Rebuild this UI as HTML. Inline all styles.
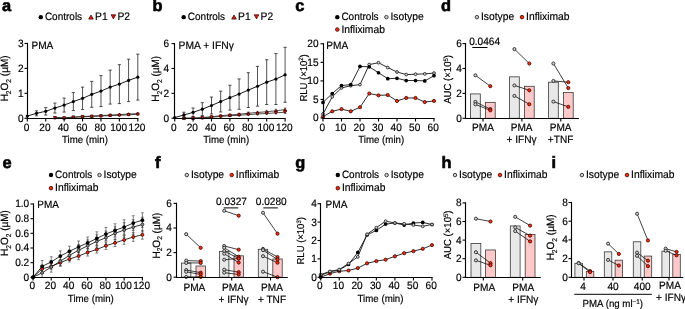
<!DOCTYPE html>
<html><head><meta charset="utf-8"><style>
html,body{margin:0;padding:0;background:#fff;}
svg{display:block;font-family:"Liberation Sans", sans-serif;will-change:transform;}
text{stroke:#000;stroke-width:0.18px;}
</style></head><body>
<svg width="685" height="309" viewBox="0 0 685 309" font-size="9.7" text-rendering="geometricPrecision">
<rect width="685" height="309" fill="#fff"/>
<text x="2.1" y="11.4" font-weight="bold" font-size="16.4" style="stroke-width:0.6px">a</text>
<circle cx="40.8" cy="17.15" r="2.2" fill="#000"/>
<text transform="translate(44.9 20.4) scale(0.9434 1)" font-size="10.6">Controls</text>
<polygon points="91,14.98 93.3,19.12 88.7,19.12" fill="#e8160c" stroke="#2a0000" stroke-width="0.7" stroke-linejoin="round"/>
<text transform="translate(95.1 20.4) scale(0.9434 1)" font-size="10.92">P1</text>
<polygon points="113.4,18.92 115.7,14.78 111.1,14.78" fill="#e8160c" stroke="#2a0000" stroke-width="0.7" stroke-linejoin="round"/>
<text transform="translate(117.5 20.4) scale(0.9434 1)" font-size="10.92">P2</text>
<line x1="54.93" y1="116.55" x2="54.93" y2="118.3" stroke="#777" stroke-width="0.6"/>
<line x1="64.13" y1="116.8" x2="64.13" y2="118.3" stroke="#777" stroke-width="0.6"/>
<line x1="73.34" y1="116.05" x2="73.34" y2="118.05" stroke="#777" stroke-width="0.6"/>
<line x1="82.55" y1="115.56" x2="82.55" y2="117.55" stroke="#777" stroke-width="0.6"/>
<line x1="91.76" y1="115.06" x2="91.76" y2="117.05" stroke="#777" stroke-width="0.6"/>
<line x1="100.97" y1="114.56" x2="100.97" y2="116.55" stroke="#777" stroke-width="0.6"/>
<line x1="110.18" y1="114.06" x2="110.18" y2="116.05" stroke="#777" stroke-width="0.6"/>
<line x1="119.38" y1="113.56" x2="119.38" y2="115.56" stroke="#777" stroke-width="0.6"/>
<line x1="128.59" y1="113.06" x2="128.59" y2="115.06" stroke="#777" stroke-width="0.6"/>
<line x1="137.8" y1="112.56" x2="137.8" y2="114.56" stroke="#777" stroke-width="0.6"/>
<line x1="54.93" y1="117.05" x2="54.93" y2="118.3" stroke="#777" stroke-width="0.6"/>
<line x1="64.13" y1="117.3" x2="64.13" y2="118.3" stroke="#777" stroke-width="0.6"/>
<line x1="73.34" y1="116.55" x2="73.34" y2="118.05" stroke="#777" stroke-width="0.6"/>
<line x1="82.55" y1="116.05" x2="82.55" y2="117.55" stroke="#777" stroke-width="0.6"/>
<line x1="91.76" y1="115.81" x2="91.76" y2="117.3" stroke="#777" stroke-width="0.6"/>
<line x1="100.97" y1="115.31" x2="100.97" y2="116.8" stroke="#777" stroke-width="0.6"/>
<line x1="110.18" y1="114.81" x2="110.18" y2="116.3" stroke="#777" stroke-width="0.6"/>
<line x1="119.38" y1="114.56" x2="119.38" y2="116.05" stroke="#777" stroke-width="0.6"/>
<line x1="128.59" y1="114.06" x2="128.59" y2="115.56" stroke="#777" stroke-width="0.6"/>
<line x1="137.8" y1="113.56" x2="137.8" y2="115.06" stroke="#777" stroke-width="0.6"/>
<polyline points="54.93,117.55 64.13,117.8 73.34,117.05 82.55,116.55 91.76,116.05 100.97,115.56 110.18,115.06 119.38,114.56 128.59,114.06 137.8,113.56" fill="none" stroke="#222" stroke-width="0.8"/>
<polyline points="54.93,117.8 64.13,118.05 73.34,117.3 82.55,116.8 91.76,116.55 100.97,116.05 110.18,115.56 119.38,115.31 128.59,114.81 137.8,114.31" fill="none" stroke="#222" stroke-width="0.8"/>
<polygon points="54.93,116.2 56.43,118.9 53.43,118.9" fill="#fa2a0a" stroke="#300" stroke-width="0.7" stroke-linejoin="round"/>
<polygon points="64.13,116.45 65.63,119.15 62.63,119.15" fill="#fa2a0a" stroke="#300" stroke-width="0.7" stroke-linejoin="round"/>
<polygon points="73.34,115.7 74.84,118.4 71.84,118.4" fill="#fa2a0a" stroke="#300" stroke-width="0.7" stroke-linejoin="round"/>
<polygon points="82.55,115.2 84.05,117.9 81.05,117.9" fill="#fa2a0a" stroke="#300" stroke-width="0.7" stroke-linejoin="round"/>
<polygon points="91.76,114.7 93.26,117.4 90.26,117.4" fill="#fa2a0a" stroke="#300" stroke-width="0.7" stroke-linejoin="round"/>
<polygon points="100.97,114.21 102.47,116.91 99.47,116.91" fill="#fa2a0a" stroke="#300" stroke-width="0.7" stroke-linejoin="round"/>
<polygon points="110.18,113.71 111.68,116.41 108.68,116.41" fill="#fa2a0a" stroke="#300" stroke-width="0.7" stroke-linejoin="round"/>
<polygon points="119.38,113.21 120.88,115.91 117.88,115.91" fill="#fa2a0a" stroke="#300" stroke-width="0.7" stroke-linejoin="round"/>
<polygon points="128.59,112.71 130.09,115.41 127.09,115.41" fill="#fa2a0a" stroke="#300" stroke-width="0.7" stroke-linejoin="round"/>
<polygon points="137.8,112.21 139.3,114.91 136.3,114.91" fill="#fa2a0a" stroke="#300" stroke-width="0.7" stroke-linejoin="round"/>
<polygon points="54.93,119.15 56.43,116.45 53.43,116.45" fill="#fa2a0a" stroke="#300" stroke-width="0.7" stroke-linejoin="round"/>
<polygon points="64.13,119.4 65.63,116.7 62.63,116.7" fill="#fa2a0a" stroke="#300" stroke-width="0.7" stroke-linejoin="round"/>
<polygon points="73.34,118.65 74.84,115.95 71.84,115.95" fill="#fa2a0a" stroke="#300" stroke-width="0.7" stroke-linejoin="round"/>
<polygon points="82.55,118.15 84.05,115.45 81.05,115.45" fill="#fa2a0a" stroke="#300" stroke-width="0.7" stroke-linejoin="round"/>
<polygon points="91.76,117.9 93.26,115.2 90.26,115.2" fill="#fa2a0a" stroke="#300" stroke-width="0.7" stroke-linejoin="round"/>
<polygon points="100.97,117.4 102.47,114.7 99.47,114.7" fill="#fa2a0a" stroke="#300" stroke-width="0.7" stroke-linejoin="round"/>
<polygon points="110.18,116.91 111.68,114.21 108.68,114.21" fill="#fa2a0a" stroke="#300" stroke-width="0.7" stroke-linejoin="round"/>
<polygon points="119.38,116.66 120.88,113.96 117.88,113.96" fill="#fa2a0a" stroke="#300" stroke-width="0.7" stroke-linejoin="round"/>
<polygon points="128.59,116.16 130.09,113.46 127.09,113.46" fill="#fa2a0a" stroke="#300" stroke-width="0.7" stroke-linejoin="round"/>
<polygon points="137.8,115.66 139.3,112.96 136.3,112.96" fill="#fa2a0a" stroke="#300" stroke-width="0.7" stroke-linejoin="round"/>
<line x1="36.51" y1="110.81" x2="36.51" y2="115.8" stroke="#1a1a1a" stroke-width="0.75"/>
<line x1="34.91" y1="110.81" x2="38.11" y2="110.81" stroke="#1a1a1a" stroke-width="0.75"/>
<line x1="34.91" y1="115.8" x2="38.11" y2="115.8" stroke="#1a1a1a" stroke-width="0.75"/>
<line x1="45.72" y1="107.57" x2="45.72" y2="115.06" stroke="#1a1a1a" stroke-width="0.75"/>
<line x1="44.12" y1="107.57" x2="47.32" y2="107.57" stroke="#1a1a1a" stroke-width="0.75"/>
<line x1="44.12" y1="115.06" x2="47.32" y2="115.06" stroke="#1a1a1a" stroke-width="0.75"/>
<line x1="54.93" y1="103.08" x2="54.93" y2="113.06" stroke="#1a1a1a" stroke-width="0.75"/>
<line x1="53.33" y1="103.08" x2="56.53" y2="103.08" stroke="#1a1a1a" stroke-width="0.75"/>
<line x1="53.33" y1="113.06" x2="56.53" y2="113.06" stroke="#1a1a1a" stroke-width="0.75"/>
<line x1="64.13" y1="98.09" x2="64.13" y2="112.06" stroke="#1a1a1a" stroke-width="0.75"/>
<line x1="62.53" y1="98.09" x2="65.73" y2="98.09" stroke="#1a1a1a" stroke-width="0.75"/>
<line x1="62.53" y1="112.06" x2="65.73" y2="112.06" stroke="#1a1a1a" stroke-width="0.75"/>
<line x1="73.34" y1="92.6" x2="73.34" y2="110.57" stroke="#1a1a1a" stroke-width="0.75"/>
<line x1="71.74" y1="92.6" x2="74.94" y2="92.6" stroke="#1a1a1a" stroke-width="0.75"/>
<line x1="71.74" y1="110.57" x2="74.94" y2="110.57" stroke="#1a1a1a" stroke-width="0.75"/>
<line x1="82.55" y1="87.11" x2="82.55" y2="109.57" stroke="#1a1a1a" stroke-width="0.75"/>
<line x1="80.95" y1="87.11" x2="84.15" y2="87.11" stroke="#1a1a1a" stroke-width="0.75"/>
<line x1="80.95" y1="109.57" x2="84.15" y2="109.57" stroke="#1a1a1a" stroke-width="0.75"/>
<line x1="91.76" y1="81.37" x2="91.76" y2="107.32" stroke="#1a1a1a" stroke-width="0.75"/>
<line x1="90.16" y1="81.37" x2="93.36" y2="81.37" stroke="#1a1a1a" stroke-width="0.75"/>
<line x1="90.16" y1="107.32" x2="93.36" y2="107.32" stroke="#1a1a1a" stroke-width="0.75"/>
<line x1="100.97" y1="75.64" x2="100.97" y2="106.57" stroke="#1a1a1a" stroke-width="0.75"/>
<line x1="99.37" y1="75.64" x2="102.57" y2="75.64" stroke="#1a1a1a" stroke-width="0.75"/>
<line x1="99.37" y1="106.57" x2="102.57" y2="106.57" stroke="#1a1a1a" stroke-width="0.75"/>
<line x1="110.18" y1="70.15" x2="110.18" y2="104.08" stroke="#1a1a1a" stroke-width="0.75"/>
<line x1="108.58" y1="70.15" x2="111.78" y2="70.15" stroke="#1a1a1a" stroke-width="0.75"/>
<line x1="108.58" y1="104.08" x2="111.78" y2="104.08" stroke="#1a1a1a" stroke-width="0.75"/>
<line x1="119.38" y1="64.66" x2="119.38" y2="103.58" stroke="#1a1a1a" stroke-width="0.75"/>
<line x1="117.78" y1="64.66" x2="120.98" y2="64.66" stroke="#1a1a1a" stroke-width="0.75"/>
<line x1="117.78" y1="103.58" x2="120.98" y2="103.58" stroke="#1a1a1a" stroke-width="0.75"/>
<line x1="128.59" y1="59.17" x2="128.59" y2="101.58" stroke="#1a1a1a" stroke-width="0.75"/>
<line x1="126.99" y1="59.17" x2="130.19" y2="59.17" stroke="#1a1a1a" stroke-width="0.75"/>
<line x1="126.99" y1="101.58" x2="130.19" y2="101.58" stroke="#1a1a1a" stroke-width="0.75"/>
<line x1="137.8" y1="54.18" x2="137.8" y2="100.09" stroke="#1a1a1a" stroke-width="0.75"/>
<line x1="136.2" y1="54.18" x2="139.4" y2="54.18" stroke="#1a1a1a" stroke-width="0.75"/>
<line x1="136.2" y1="100.09" x2="139.4" y2="100.09" stroke="#1a1a1a" stroke-width="0.75"/>
<polyline points="27.3,116.05 36.51,113.31 45.72,111.31 54.93,108.07 64.13,105.08 73.34,101.58 82.55,98.34 91.76,94.35 100.97,91.1 110.18,87.11 119.38,84.12 128.59,80.38 137.8,77.13" fill="none" stroke="#000" stroke-width="0.9"/>
<circle cx="27.3" cy="116.05" r="1.6" fill="#000"/>
<circle cx="36.51" cy="113.31" r="1.6" fill="#000"/>
<circle cx="45.72" cy="111.31" r="1.6" fill="#000"/>
<circle cx="54.93" cy="108.07" r="1.6" fill="#000"/>
<circle cx="64.13" cy="105.08" r="1.6" fill="#000"/>
<circle cx="73.34" cy="101.58" r="1.6" fill="#000"/>
<circle cx="82.55" cy="98.34" r="1.6" fill="#000"/>
<circle cx="91.76" cy="94.35" r="1.6" fill="#000"/>
<circle cx="100.97" cy="91.1" r="1.6" fill="#000"/>
<circle cx="110.18" cy="87.11" r="1.6" fill="#000"/>
<circle cx="119.38" cy="84.12" r="1.6" fill="#000"/>
<circle cx="128.59" cy="80.38" r="1.6" fill="#000"/>
<circle cx="137.8" cy="77.13" r="1.6" fill="#000"/>
<line x1="27.5" y1="42.85" x2="27.5" y2="119.05" stroke="#000" stroke-width="1.15"/>
<line x1="24.5" y1="118.3" x2="27.5" y2="118.3" stroke="#000" stroke-width="1.1"/>
<text transform="translate(23.6 121.7) scale(0.9434 1)" text-anchor="end" font-size="10.71">0</text>
<line x1="24.5" y1="93.35" x2="27.5" y2="93.35" stroke="#000" stroke-width="1.1"/>
<text transform="translate(23.6 96.75) scale(0.9434 1)" text-anchor="end" font-size="10.71">1</text>
<line x1="24.5" y1="68.4" x2="27.5" y2="68.4" stroke="#000" stroke-width="1.1"/>
<text transform="translate(23.6 71.8) scale(0.9434 1)" text-anchor="end" font-size="10.71">2</text>
<line x1="24.5" y1="43.45" x2="27.5" y2="43.45" stroke="#000" stroke-width="1.1"/>
<text transform="translate(23.6 46.85) scale(0.9434 1)" text-anchor="end" font-size="10.71">3</text>
<line x1="26.95" y1="118.5" x2="138.4" y2="118.5" stroke="#000" stroke-width="1.15"/>
<line x1="27.3" y1="118.5" x2="27.3" y2="121.5" stroke="#000" stroke-width="1.1"/>
<text transform="translate(26.5 130.6) scale(0.9434 1)" text-anchor="middle" font-size="10.71">0</text>
<line x1="45.72" y1="118.5" x2="45.72" y2="121.5" stroke="#000" stroke-width="1.1"/>
<text transform="translate(44.92 130.6) scale(0.9434 1)" text-anchor="middle" font-size="10.71">20</text>
<line x1="64.13" y1="118.5" x2="64.13" y2="121.5" stroke="#000" stroke-width="1.1"/>
<text transform="translate(63.33 130.6) scale(0.9434 1)" text-anchor="middle" font-size="10.71">40</text>
<line x1="82.55" y1="118.5" x2="82.55" y2="121.5" stroke="#000" stroke-width="1.1"/>
<text transform="translate(81.75 130.6) scale(0.9434 1)" text-anchor="middle" font-size="10.71">60</text>
<line x1="100.97" y1="118.5" x2="100.97" y2="121.5" stroke="#000" stroke-width="1.1"/>
<text transform="translate(100.17 130.6) scale(0.9434 1)" text-anchor="middle" font-size="10.71">80</text>
<line x1="119.38" y1="118.5" x2="119.38" y2="121.5" stroke="#000" stroke-width="1.1"/>
<text transform="translate(118.58 130.6) scale(0.9434 1)" text-anchor="middle" font-size="10.71">100</text>
<line x1="137.8" y1="118.5" x2="137.8" y2="121.5" stroke="#000" stroke-width="1.1"/>
<text transform="translate(137 130.6) scale(0.9434 1)" text-anchor="middle" font-size="10.71">120</text>
<text transform="translate(84.9 142.9) scale(0.9434 1)" text-anchor="middle" font-size="10.28">Time (min)</text>
<text transform="translate(31.4 48.9) scale(0.9434 1)" font-size="10.71">PMA</text>
<text transform="translate(8.1,78.4) rotate(-90) scale(0.9434 1)" text-anchor="middle" font-size="10.6">H<tspan font-size="7" dy="2.6">2</tspan><tspan dy="-2.6">O</tspan><tspan font-size="7" dy="2.6">2</tspan><tspan dy="-2.6"> (µM)</tspan></text>
<text x="152.6" y="11.4" font-weight="bold" font-size="16.4" style="stroke-width:0.6px">b</text>
<circle cx="183.7" cy="17.15" r="2.2" fill="#000"/>
<text transform="translate(187.8 20.4) scale(0.9434 1)" font-size="10.6">Controls</text>
<polygon points="234,14.98 236.3,19.12 231.7,19.12" fill="#e8160c" stroke="#2a0000" stroke-width="0.7" stroke-linejoin="round"/>
<text transform="translate(238.1 20.4) scale(0.9434 1)" font-size="10.92">P1</text>
<polygon points="256.5,18.92 258.8,14.78 254.2,14.78" fill="#e8160c" stroke="#2a0000" stroke-width="0.7" stroke-linejoin="round"/>
<text transform="translate(260.6 20.4) scale(0.9434 1)" font-size="10.92">P2</text>
<line x1="202.3" y1="117.14" x2="202.3" y2="118.01" stroke="#666" stroke-width="0.6"/>
<line x1="200.9" y1="117.14" x2="203.7" y2="117.14" stroke="#666" stroke-width="0.6"/>
<line x1="200.9" y1="118.01" x2="203.7" y2="118.01" stroke="#666" stroke-width="0.6"/>
<line x1="211.5" y1="116.13" x2="211.5" y2="117.29" stroke="#666" stroke-width="0.6"/>
<line x1="210.1" y1="116.13" x2="212.9" y2="116.13" stroke="#666" stroke-width="0.6"/>
<line x1="210.1" y1="117.29" x2="212.9" y2="117.29" stroke="#666" stroke-width="0.6"/>
<line x1="220.7" y1="114.99" x2="220.7" y2="116.44" stroke="#666" stroke-width="0.6"/>
<line x1="219.3" y1="114.99" x2="222.1" y2="114.99" stroke="#666" stroke-width="0.6"/>
<line x1="219.3" y1="116.44" x2="222.1" y2="116.44" stroke="#666" stroke-width="0.6"/>
<line x1="229.9" y1="114.1" x2="229.9" y2="115.84" stroke="#666" stroke-width="0.6"/>
<line x1="228.5" y1="114.1" x2="231.3" y2="114.1" stroke="#666" stroke-width="0.6"/>
<line x1="228.5" y1="115.84" x2="231.3" y2="115.84" stroke="#666" stroke-width="0.6"/>
<line x1="239.1" y1="113.21" x2="239.1" y2="115.24" stroke="#666" stroke-width="0.6"/>
<line x1="237.7" y1="113.21" x2="240.5" y2="113.21" stroke="#666" stroke-width="0.6"/>
<line x1="237.7" y1="115.24" x2="240.5" y2="115.24" stroke="#666" stroke-width="0.6"/>
<line x1="248.3" y1="112.07" x2="248.3" y2="114.39" stroke="#666" stroke-width="0.6"/>
<line x1="246.9" y1="112.07" x2="249.7" y2="112.07" stroke="#666" stroke-width="0.6"/>
<line x1="246.9" y1="114.39" x2="249.7" y2="114.39" stroke="#666" stroke-width="0.6"/>
<line x1="257.5" y1="111.18" x2="257.5" y2="113.79" stroke="#666" stroke-width="0.6"/>
<line x1="256.1" y1="111.18" x2="258.9" y2="111.18" stroke="#666" stroke-width="0.6"/>
<line x1="256.1" y1="113.79" x2="258.9" y2="113.79" stroke="#666" stroke-width="0.6"/>
<line x1="266.7" y1="110.29" x2="266.7" y2="113.19" stroke="#666" stroke-width="0.6"/>
<line x1="265.3" y1="110.29" x2="268.1" y2="110.29" stroke="#666" stroke-width="0.6"/>
<line x1="265.3" y1="113.19" x2="268.1" y2="113.19" stroke="#666" stroke-width="0.6"/>
<line x1="275.9" y1="109.15" x2="275.9" y2="112.34" stroke="#666" stroke-width="0.6"/>
<line x1="274.5" y1="109.15" x2="277.3" y2="109.15" stroke="#666" stroke-width="0.6"/>
<line x1="274.5" y1="112.34" x2="277.3" y2="112.34" stroke="#666" stroke-width="0.6"/>
<line x1="285.1" y1="107.88" x2="285.1" y2="111.36" stroke="#666" stroke-width="0.6"/>
<line x1="283.7" y1="107.88" x2="286.5" y2="107.88" stroke="#666" stroke-width="0.6"/>
<line x1="283.7" y1="111.36" x2="286.5" y2="111.36" stroke="#666" stroke-width="0.6"/>
<line x1="202.3" y1="117.64" x2="202.3" y2="118.2" stroke="#666" stroke-width="0.6"/>
<line x1="200.9" y1="117.64" x2="203.7" y2="117.64" stroke="#666" stroke-width="0.6"/>
<line x1="200.9" y1="118.2" x2="203.7" y2="118.2" stroke="#666" stroke-width="0.6"/>
<line x1="211.5" y1="116.79" x2="211.5" y2="117.62" stroke="#666" stroke-width="0.6"/>
<line x1="210.1" y1="116.79" x2="212.9" y2="116.79" stroke="#666" stroke-width="0.6"/>
<line x1="210.1" y1="117.62" x2="212.9" y2="117.62" stroke="#666" stroke-width="0.6"/>
<line x1="220.7" y1="115.94" x2="220.7" y2="116.98" stroke="#666" stroke-width="0.6"/>
<line x1="219.3" y1="115.94" x2="222.1" y2="115.94" stroke="#666" stroke-width="0.6"/>
<line x1="219.3" y1="116.98" x2="222.1" y2="116.98" stroke="#666" stroke-width="0.6"/>
<line x1="229.9" y1="115.09" x2="229.9" y2="116.34" stroke="#666" stroke-width="0.6"/>
<line x1="228.5" y1="115.09" x2="231.3" y2="115.09" stroke="#666" stroke-width="0.6"/>
<line x1="228.5" y1="116.34" x2="231.3" y2="116.34" stroke="#666" stroke-width="0.6"/>
<line x1="239.1" y1="114.49" x2="239.1" y2="115.94" stroke="#666" stroke-width="0.6"/>
<line x1="237.7" y1="114.49" x2="240.5" y2="114.49" stroke="#666" stroke-width="0.6"/>
<line x1="237.7" y1="115.94" x2="240.5" y2="115.94" stroke="#666" stroke-width="0.6"/>
<line x1="248.3" y1="113.77" x2="248.3" y2="115.42" stroke="#666" stroke-width="0.6"/>
<line x1="246.9" y1="113.77" x2="249.7" y2="113.77" stroke="#666" stroke-width="0.6"/>
<line x1="246.9" y1="115.42" x2="249.7" y2="115.42" stroke="#666" stroke-width="0.6"/>
<line x1="257.5" y1="113.04" x2="257.5" y2="114.91" stroke="#666" stroke-width="0.6"/>
<line x1="256.1" y1="113.04" x2="258.9" y2="113.04" stroke="#666" stroke-width="0.6"/>
<line x1="256.1" y1="114.91" x2="258.9" y2="114.91" stroke="#666" stroke-width="0.6"/>
<line x1="266.7" y1="112.44" x2="266.7" y2="114.51" stroke="#666" stroke-width="0.6"/>
<line x1="265.3" y1="112.44" x2="268.1" y2="112.44" stroke="#666" stroke-width="0.6"/>
<line x1="265.3" y1="114.51" x2="268.1" y2="114.51" stroke="#666" stroke-width="0.6"/>
<line x1="275.9" y1="111.72" x2="275.9" y2="113.99" stroke="#666" stroke-width="0.6"/>
<line x1="274.5" y1="111.72" x2="277.3" y2="111.72" stroke="#666" stroke-width="0.6"/>
<line x1="274.5" y1="113.99" x2="277.3" y2="113.99" stroke="#666" stroke-width="0.6"/>
<line x1="285.1" y1="110.99" x2="285.1" y2="113.48" stroke="#666" stroke-width="0.6"/>
<line x1="283.7" y1="110.99" x2="286.5" y2="110.99" stroke="#666" stroke-width="0.6"/>
<line x1="283.7" y1="113.48" x2="286.5" y2="113.48" stroke="#666" stroke-width="0.6"/>
<polyline points="183.9,118.2 193.1,118.08 202.3,117.58 211.5,116.71 220.7,115.71 229.9,114.97 239.1,114.22 248.3,113.23 257.5,112.48 266.7,111.74 275.9,110.74 285.1,109.62" fill="none" stroke="#222" stroke-width="0.8"/>
<polyline points="183.9,118.2 193.1,118.2 202.3,117.95 211.5,117.21 220.7,116.46 229.9,115.71 239.1,115.22 248.3,114.6 257.5,113.97 266.7,113.48 275.9,112.86 285.1,112.23" fill="none" stroke="#222" stroke-width="0.8"/>
<polygon points="183.9,116.85 185.4,119.55 182.4,119.55" fill="#fa2a0a" stroke="#300" stroke-width="0.7" stroke-linejoin="round"/>
<polygon points="193.1,116.73 194.6,119.43 191.6,119.43" fill="#fa2a0a" stroke="#300" stroke-width="0.7" stroke-linejoin="round"/>
<polygon points="202.3,116.23 203.8,118.93 200.8,118.93" fill="#fa2a0a" stroke="#300" stroke-width="0.7" stroke-linejoin="round"/>
<polygon points="211.5,115.36 213,118.06 210,118.06" fill="#fa2a0a" stroke="#300" stroke-width="0.7" stroke-linejoin="round"/>
<polygon points="220.7,114.36 222.2,117.06 219.2,117.06" fill="#fa2a0a" stroke="#300" stroke-width="0.7" stroke-linejoin="round"/>
<polygon points="229.9,113.62 231.4,116.32 228.4,116.32" fill="#fa2a0a" stroke="#300" stroke-width="0.7" stroke-linejoin="round"/>
<polygon points="239.1,112.87 240.6,115.57 237.6,115.57" fill="#fa2a0a" stroke="#300" stroke-width="0.7" stroke-linejoin="round"/>
<polygon points="248.3,111.88 249.8,114.58 246.8,114.58" fill="#fa2a0a" stroke="#300" stroke-width="0.7" stroke-linejoin="round"/>
<polygon points="257.5,111.13 259,113.83 256,113.83" fill="#fa2a0a" stroke="#300" stroke-width="0.7" stroke-linejoin="round"/>
<polygon points="266.7,110.39 268.2,113.09 265.2,113.09" fill="#fa2a0a" stroke="#300" stroke-width="0.7" stroke-linejoin="round"/>
<polygon points="275.9,109.39 277.4,112.09 274.4,112.09" fill="#fa2a0a" stroke="#300" stroke-width="0.7" stroke-linejoin="round"/>
<polygon points="285.1,108.27 286.6,110.97 283.6,110.97" fill="#fa2a0a" stroke="#300" stroke-width="0.7" stroke-linejoin="round"/>
<polygon points="183.9,119.55 185.4,116.85 182.4,116.85" fill="#fa2a0a" stroke="#300" stroke-width="0.7" stroke-linejoin="round"/>
<polygon points="193.1,119.55 194.6,116.85 191.6,116.85" fill="#fa2a0a" stroke="#300" stroke-width="0.7" stroke-linejoin="round"/>
<polygon points="202.3,119.3 203.8,116.6 200.8,116.6" fill="#fa2a0a" stroke="#300" stroke-width="0.7" stroke-linejoin="round"/>
<polygon points="211.5,118.56 213,115.86 210,115.86" fill="#fa2a0a" stroke="#300" stroke-width="0.7" stroke-linejoin="round"/>
<polygon points="220.7,117.81 222.2,115.11 219.2,115.11" fill="#fa2a0a" stroke="#300" stroke-width="0.7" stroke-linejoin="round"/>
<polygon points="229.9,117.06 231.4,114.36 228.4,114.36" fill="#fa2a0a" stroke="#300" stroke-width="0.7" stroke-linejoin="round"/>
<polygon points="239.1,116.57 240.6,113.87 237.6,113.87" fill="#fa2a0a" stroke="#300" stroke-width="0.7" stroke-linejoin="round"/>
<polygon points="248.3,115.95 249.8,113.25 246.8,113.25" fill="#fa2a0a" stroke="#300" stroke-width="0.7" stroke-linejoin="round"/>
<polygon points="257.5,115.32 259,112.62 256,112.62" fill="#fa2a0a" stroke="#300" stroke-width="0.7" stroke-linejoin="round"/>
<polygon points="266.7,114.83 268.2,112.13 265.2,112.13" fill="#fa2a0a" stroke="#300" stroke-width="0.7" stroke-linejoin="round"/>
<polygon points="275.9,114.21 277.4,111.51 274.4,111.51" fill="#fa2a0a" stroke="#300" stroke-width="0.7" stroke-linejoin="round"/>
<polygon points="285.1,113.58 286.6,110.88 283.6,110.88" fill="#fa2a0a" stroke="#300" stroke-width="0.7" stroke-linejoin="round"/>
<line x1="183.9" y1="112.23" x2="183.9" y2="117.7" stroke="#1a1a1a" stroke-width="0.75"/>
<line x1="182.3" y1="112.23" x2="185.5" y2="112.23" stroke="#1a1a1a" stroke-width="0.75"/>
<line x1="182.3" y1="117.7" x2="185.5" y2="117.7" stroke="#1a1a1a" stroke-width="0.75"/>
<line x1="193.1" y1="108.01" x2="193.1" y2="116.71" stroke="#1a1a1a" stroke-width="0.75"/>
<line x1="191.5" y1="108.01" x2="194.7" y2="108.01" stroke="#1a1a1a" stroke-width="0.75"/>
<line x1="191.5" y1="116.71" x2="194.7" y2="116.71" stroke="#1a1a1a" stroke-width="0.75"/>
<line x1="202.3" y1="102.66" x2="202.3" y2="115.59" stroke="#1a1a1a" stroke-width="0.75"/>
<line x1="200.7" y1="102.66" x2="203.9" y2="102.66" stroke="#1a1a1a" stroke-width="0.75"/>
<line x1="200.7" y1="115.59" x2="203.9" y2="115.59" stroke="#1a1a1a" stroke-width="0.75"/>
<line x1="211.5" y1="97.07" x2="211.5" y2="113.97" stroke="#1a1a1a" stroke-width="0.75"/>
<line x1="209.9" y1="97.07" x2="213.1" y2="97.07" stroke="#1a1a1a" stroke-width="0.75"/>
<line x1="209.9" y1="113.97" x2="213.1" y2="113.97" stroke="#1a1a1a" stroke-width="0.75"/>
<line x1="220.7" y1="91.1" x2="220.7" y2="111.98" stroke="#1a1a1a" stroke-width="0.75"/>
<line x1="219.1" y1="91.1" x2="222.3" y2="91.1" stroke="#1a1a1a" stroke-width="0.75"/>
<line x1="219.1" y1="111.98" x2="222.3" y2="111.98" stroke="#1a1a1a" stroke-width="0.75"/>
<line x1="229.9" y1="85.26" x2="229.9" y2="110.12" stroke="#1a1a1a" stroke-width="0.75"/>
<line x1="228.3" y1="85.26" x2="231.5" y2="85.26" stroke="#1a1a1a" stroke-width="0.75"/>
<line x1="228.3" y1="110.12" x2="231.5" y2="110.12" stroke="#1a1a1a" stroke-width="0.75"/>
<line x1="239.1" y1="78.92" x2="239.1" y2="109.25" stroke="#1a1a1a" stroke-width="0.75"/>
<line x1="237.5" y1="78.92" x2="240.7" y2="78.92" stroke="#1a1a1a" stroke-width="0.75"/>
<line x1="237.5" y1="109.25" x2="240.7" y2="109.25" stroke="#1a1a1a" stroke-width="0.75"/>
<line x1="248.3" y1="72.71" x2="248.3" y2="107.51" stroke="#1a1a1a" stroke-width="0.75"/>
<line x1="246.7" y1="72.71" x2="249.9" y2="72.71" stroke="#1a1a1a" stroke-width="0.75"/>
<line x1="246.7" y1="107.51" x2="249.9" y2="107.51" stroke="#1a1a1a" stroke-width="0.75"/>
<line x1="257.5" y1="66.37" x2="257.5" y2="106.14" stroke="#1a1a1a" stroke-width="0.75"/>
<line x1="255.9" y1="66.37" x2="259.1" y2="66.37" stroke="#1a1a1a" stroke-width="0.75"/>
<line x1="255.9" y1="106.14" x2="259.1" y2="106.14" stroke="#1a1a1a" stroke-width="0.75"/>
<line x1="266.7" y1="59.78" x2="266.7" y2="104.53" stroke="#1a1a1a" stroke-width="0.75"/>
<line x1="265.1" y1="59.78" x2="268.3" y2="59.78" stroke="#1a1a1a" stroke-width="0.75"/>
<line x1="265.1" y1="104.53" x2="268.3" y2="104.53" stroke="#1a1a1a" stroke-width="0.75"/>
<line x1="275.9" y1="53.56" x2="275.9" y2="104.53" stroke="#1a1a1a" stroke-width="0.75"/>
<line x1="274.3" y1="53.56" x2="277.5" y2="53.56" stroke="#1a1a1a" stroke-width="0.75"/>
<line x1="274.3" y1="104.53" x2="277.5" y2="104.53" stroke="#1a1a1a" stroke-width="0.75"/>
<line x1="285.1" y1="47.35" x2="285.1" y2="102.29" stroke="#1a1a1a" stroke-width="0.75"/>
<line x1="283.5" y1="47.35" x2="286.7" y2="47.35" stroke="#1a1a1a" stroke-width="0.75"/>
<line x1="283.5" y1="102.29" x2="286.7" y2="102.29" stroke="#1a1a1a" stroke-width="0.75"/>
<polyline points="174.7,117.58 183.9,114.97 193.1,112.36 202.3,109.13 211.5,105.52 220.7,101.54 229.9,97.69 239.1,94.09 248.3,90.11 257.5,86.25 266.7,82.15 275.9,79.05 285.1,74.82" fill="none" stroke="#000" stroke-width="0.9"/>
<circle cx="174.7" cy="117.58" r="1.6" fill="#000"/>
<circle cx="183.9" cy="114.97" r="1.6" fill="#000"/>
<circle cx="193.1" cy="112.36" r="1.6" fill="#000"/>
<circle cx="202.3" cy="109.13" r="1.6" fill="#000"/>
<circle cx="211.5" cy="105.52" r="1.6" fill="#000"/>
<circle cx="220.7" cy="101.54" r="1.6" fill="#000"/>
<circle cx="229.9" cy="97.69" r="1.6" fill="#000"/>
<circle cx="239.1" cy="94.09" r="1.6" fill="#000"/>
<circle cx="248.3" cy="90.11" r="1.6" fill="#000"/>
<circle cx="257.5" cy="86.25" r="1.6" fill="#000"/>
<circle cx="266.7" cy="82.15" r="1.6" fill="#000"/>
<circle cx="275.9" cy="79.05" r="1.6" fill="#000"/>
<circle cx="285.1" cy="74.82" r="1.6" fill="#000"/>
<line x1="174.5" y1="43.02" x2="174.5" y2="119.05" stroke="#000" stroke-width="1.15"/>
<line x1="171.5" y1="118.2" x2="174.5" y2="118.2" stroke="#000" stroke-width="1.1"/>
<text transform="translate(169 121.6) scale(0.9434 1)" text-anchor="end" font-size="10.71">0</text>
<line x1="171.5" y1="93.34" x2="174.5" y2="93.34" stroke="#000" stroke-width="1.1"/>
<text transform="translate(169 96.74) scale(0.9434 1)" text-anchor="end" font-size="10.71">2</text>
<line x1="171.5" y1="68.48" x2="174.5" y2="68.48" stroke="#000" stroke-width="1.1"/>
<text transform="translate(169 71.88) scale(0.9434 1)" text-anchor="end" font-size="10.71">4</text>
<line x1="171.5" y1="43.62" x2="174.5" y2="43.62" stroke="#000" stroke-width="1.1"/>
<text transform="translate(169 47.02) scale(0.9434 1)" text-anchor="end" font-size="10.71">6</text>
<line x1="173.95" y1="118.5" x2="285.7" y2="118.5" stroke="#000" stroke-width="1.15"/>
<line x1="174.7" y1="118.5" x2="174.7" y2="121.5" stroke="#000" stroke-width="1.1"/>
<text transform="translate(173.9 130.6) scale(0.9434 1)" text-anchor="middle" font-size="10.71">0</text>
<line x1="193.1" y1="118.5" x2="193.1" y2="121.5" stroke="#000" stroke-width="1.1"/>
<text transform="translate(192.3 130.6) scale(0.9434 1)" text-anchor="middle" font-size="10.71">20</text>
<line x1="211.5" y1="118.5" x2="211.5" y2="121.5" stroke="#000" stroke-width="1.1"/>
<text transform="translate(210.7 130.6) scale(0.9434 1)" text-anchor="middle" font-size="10.71">40</text>
<line x1="229.9" y1="118.5" x2="229.9" y2="121.5" stroke="#000" stroke-width="1.1"/>
<text transform="translate(229.1 130.6) scale(0.9434 1)" text-anchor="middle" font-size="10.71">60</text>
<line x1="248.3" y1="118.5" x2="248.3" y2="121.5" stroke="#000" stroke-width="1.1"/>
<text transform="translate(247.5 130.6) scale(0.9434 1)" text-anchor="middle" font-size="10.71">80</text>
<line x1="266.7" y1="118.5" x2="266.7" y2="121.5" stroke="#000" stroke-width="1.1"/>
<text transform="translate(265.9 130.6) scale(0.9434 1)" text-anchor="middle" font-size="10.71">100</text>
<line x1="285.1" y1="118.5" x2="285.1" y2="121.5" stroke="#000" stroke-width="1.1"/>
<text transform="translate(284.3 130.6) scale(0.9434 1)" text-anchor="middle" font-size="10.71">120</text>
<text transform="translate(226.2 142.9) scale(0.9434 1)" text-anchor="middle" font-size="10.28">Time (min)</text>
<text transform="translate(178.6 48.9) scale(0.9434 1)" font-size="10.92">PMA + IFNγ</text>
<text transform="translate(159,78.8) rotate(-90) scale(0.9434 1)" text-anchor="middle" font-size="10.6">H<tspan font-size="7" dy="2.6">2</tspan><tspan dy="-2.6">O</tspan><tspan font-size="7" dy="2.6">2</tspan><tspan dy="-2.6"> (µM)</tspan></text>
<text x="295.3" y="11.4" font-weight="bold" font-size="16.4" style="stroke-width:0.6px">c</text>
<circle cx="337.3" cy="17.15" r="2.2" fill="#000"/>
<text transform="translate(341.4 20.4) scale(0.9434 1)" font-size="10.6">Controls</text>
<circle cx="386.4" cy="17.15" r="1.75" fill="#d0d0d0" stroke="#2a2a2a" stroke-width="0.9"/>
<text transform="translate(390.5 20.4) scale(0.9434 1)" font-size="10.92">Isotype</text>
<circle cx="337.3" cy="29.55" r="1.8" fill="#fa2a0a" stroke="#3a0500" stroke-width="0.8"/>
<text transform="translate(341.4 32.8) scale(0.9434 1)" font-size="10.92">Infliximab</text>
<polyline points="323,116.7 332.25,111.32 341.5,109.1 350.75,111.32 360,107.24 369.25,93.51 378.5,95.37 387.75,95 397,100.93 406.25,97.97 415.5,97.97 424.75,102.05 434,100.93" fill="none" stroke="#222" stroke-width="0.95"/>
<circle cx="323" cy="116.7" r="1.6" fill="#fa2a0a" stroke="#3a0500" stroke-width="0.8"/>
<circle cx="332.25" cy="111.32" r="1.6" fill="#fa2a0a" stroke="#3a0500" stroke-width="0.8"/>
<circle cx="341.5" cy="109.1" r="1.6" fill="#fa2a0a" stroke="#3a0500" stroke-width="0.8"/>
<circle cx="350.75" cy="111.32" r="1.6" fill="#fa2a0a" stroke="#3a0500" stroke-width="0.8"/>
<circle cx="360" cy="107.24" r="1.6" fill="#fa2a0a" stroke="#3a0500" stroke-width="0.8"/>
<circle cx="369.25" cy="93.51" r="1.6" fill="#fa2a0a" stroke="#3a0500" stroke-width="0.8"/>
<circle cx="378.5" cy="95.37" r="1.6" fill="#fa2a0a" stroke="#3a0500" stroke-width="0.8"/>
<circle cx="387.75" cy="95" r="1.6" fill="#fa2a0a" stroke="#3a0500" stroke-width="0.8"/>
<circle cx="397" cy="100.93" r="1.6" fill="#fa2a0a" stroke="#3a0500" stroke-width="0.8"/>
<circle cx="406.25" cy="97.97" r="1.6" fill="#fa2a0a" stroke="#3a0500" stroke-width="0.8"/>
<circle cx="415.5" cy="97.97" r="1.6" fill="#fa2a0a" stroke="#3a0500" stroke-width="0.8"/>
<circle cx="424.75" cy="102.05" r="1.6" fill="#fa2a0a" stroke="#3a0500" stroke-width="0.8"/>
<circle cx="434" cy="100.93" r="1.6" fill="#fa2a0a" stroke="#3a0500" stroke-width="0.8"/>
<polyline points="323,113.92 332.25,96.85 341.5,87.95 350.75,85.72 360,84.61 369.25,64.58 378.5,62.72 387.75,67.54 397,72 406.25,74.59 415.5,74.22 424.75,73.85 434,73.11" fill="none" stroke="#222" stroke-width="0.95"/>
<circle cx="323" cy="113.92" r="1.4" fill="#d0d0d0" stroke="#2a2a2a" stroke-width="0.9"/>
<circle cx="332.25" cy="96.85" r="1.4" fill="#d0d0d0" stroke="#2a2a2a" stroke-width="0.9"/>
<circle cx="341.5" cy="87.95" r="1.4" fill="#d0d0d0" stroke="#2a2a2a" stroke-width="0.9"/>
<circle cx="350.75" cy="85.72" r="1.4" fill="#d0d0d0" stroke="#2a2a2a" stroke-width="0.9"/>
<circle cx="360" cy="84.61" r="1.4" fill="#d0d0d0" stroke="#2a2a2a" stroke-width="0.9"/>
<circle cx="369.25" cy="64.58" r="1.4" fill="#d0d0d0" stroke="#2a2a2a" stroke-width="0.9"/>
<circle cx="378.5" cy="62.72" r="1.4" fill="#d0d0d0" stroke="#2a2a2a" stroke-width="0.9"/>
<circle cx="387.75" cy="67.54" r="1.4" fill="#d0d0d0" stroke="#2a2a2a" stroke-width="0.9"/>
<circle cx="397" cy="72" r="1.4" fill="#d0d0d0" stroke="#2a2a2a" stroke-width="0.9"/>
<circle cx="406.25" cy="74.59" r="1.4" fill="#d0d0d0" stroke="#2a2a2a" stroke-width="0.9"/>
<circle cx="415.5" cy="74.22" r="1.4" fill="#d0d0d0" stroke="#2a2a2a" stroke-width="0.9"/>
<circle cx="424.75" cy="73.85" r="1.4" fill="#d0d0d0" stroke="#2a2a2a" stroke-width="0.9"/>
<circle cx="434" cy="73.11" r="1.4" fill="#d0d0d0" stroke="#2a2a2a" stroke-width="0.9"/>
<polyline points="323,102.42 332.25,93.51 341.5,85.54 350.75,84.61 360,66.43 369.25,66.8 378.5,72.74 387.75,78.67 397,78.3 406.25,80.53 415.5,80.53 424.75,80.9 434,75.71" fill="none" stroke="#222" stroke-width="0.95"/>
<circle cx="323" cy="102.42" r="1.85" fill="#000"/>
<circle cx="332.25" cy="93.51" r="1.85" fill="#000"/>
<circle cx="341.5" cy="85.54" r="1.85" fill="#000"/>
<circle cx="350.75" cy="84.61" r="1.85" fill="#000"/>
<circle cx="360" cy="66.43" r="1.85" fill="#000"/>
<circle cx="369.25" cy="66.8" r="1.85" fill="#000"/>
<circle cx="378.5" cy="72.74" r="1.85" fill="#000"/>
<circle cx="387.75" cy="78.67" r="1.85" fill="#000"/>
<circle cx="397" cy="78.3" r="1.85" fill="#000"/>
<circle cx="406.25" cy="80.53" r="1.85" fill="#000"/>
<circle cx="415.5" cy="80.53" r="1.85" fill="#000"/>
<circle cx="424.75" cy="80.9" r="1.85" fill="#000"/>
<circle cx="434" cy="75.71" r="1.85" fill="#000"/>
<line x1="323.5" y1="43.2" x2="323.5" y2="119.05" stroke="#000" stroke-width="1.15"/>
<line x1="320.5" y1="118" x2="323.5" y2="118" stroke="#000" stroke-width="1.1"/>
<text transform="translate(318.6 121.4) scale(0.9434 1)" text-anchor="end" font-size="10.71">0</text>
<line x1="320.5" y1="99.45" x2="323.5" y2="99.45" stroke="#000" stroke-width="1.1"/>
<text transform="translate(318.6 102.85) scale(0.9434 1)" text-anchor="end" font-size="10.71">5</text>
<line x1="320.5" y1="80.9" x2="323.5" y2="80.9" stroke="#000" stroke-width="1.1"/>
<text transform="translate(318.6 84.3) scale(0.9434 1)" text-anchor="end" font-size="10.71">10</text>
<line x1="320.5" y1="62.35" x2="323.5" y2="62.35" stroke="#000" stroke-width="1.1"/>
<text transform="translate(318.6 65.75) scale(0.9434 1)" text-anchor="end" font-size="10.71">15</text>
<line x1="320.5" y1="43.8" x2="323.5" y2="43.8" stroke="#000" stroke-width="1.1"/>
<text transform="translate(318.6 47.2) scale(0.9434 1)" text-anchor="end" font-size="10.71">20</text>
<line x1="322.95" y1="118.5" x2="434.6" y2="118.5" stroke="#000" stroke-width="1.15"/>
<line x1="323" y1="118.5" x2="323" y2="121.5" stroke="#000" stroke-width="1.1"/>
<text transform="translate(322.2 130.8) scale(0.9434 1)" text-anchor="middle" font-size="10.71">0</text>
<line x1="341.5" y1="118.5" x2="341.5" y2="121.5" stroke="#000" stroke-width="1.1"/>
<text transform="translate(340.7 130.8) scale(0.9434 1)" text-anchor="middle" font-size="10.71">10</text>
<line x1="360" y1="118.5" x2="360" y2="121.5" stroke="#000" stroke-width="1.1"/>
<text transform="translate(359.2 130.8) scale(0.9434 1)" text-anchor="middle" font-size="10.71">20</text>
<line x1="378.5" y1="118.5" x2="378.5" y2="121.5" stroke="#000" stroke-width="1.1"/>
<text transform="translate(377.7 130.8) scale(0.9434 1)" text-anchor="middle" font-size="10.71">30</text>
<line x1="397" y1="118.5" x2="397" y2="121.5" stroke="#000" stroke-width="1.1"/>
<text transform="translate(396.2 130.8) scale(0.9434 1)" text-anchor="middle" font-size="10.71">40</text>
<line x1="415.5" y1="118.5" x2="415.5" y2="121.5" stroke="#000" stroke-width="1.1"/>
<text transform="translate(414.7 130.8) scale(0.9434 1)" text-anchor="middle" font-size="10.71">50</text>
<line x1="434" y1="118.5" x2="434" y2="121.5" stroke="#000" stroke-width="1.1"/>
<text transform="translate(433.2 130.8) scale(0.9434 1)" text-anchor="middle" font-size="10.71">60</text>
<text transform="translate(381.2 143) scale(0.9434 1)" text-anchor="middle" font-size="10.28">Time (min)</text>
<text transform="translate(326.3 48.9) scale(0.9434 1)" font-size="10.71">PMA</text>
<text transform="translate(306.8,77.9) rotate(-90) scale(0.9434 1)" text-anchor="middle" font-size="10.07">RLU (×10<tspan font-size="6.3" dy="-3.4">2</tspan><tspan dy="3.4">)</tspan></text>
<text x="441" y="11.4" font-weight="bold" font-size="16.4" style="stroke-width:0.6px">d</text>
<circle cx="476.9" cy="17.15" r="1.75" fill="#d0d0d0" stroke="#2a2a2a" stroke-width="0.9"/>
<text transform="translate(481 20.4) scale(0.9434 1)" font-size="10.92">Isotype</text>
<circle cx="522" cy="17.15" r="1.8" fill="#fa2a0a" stroke="#3a0500" stroke-width="0.8"/>
<text transform="translate(526.1 20.4) scale(0.9434 1)" font-size="10.92">Infliximab</text>
<rect x="470.5" y="93.9" width="9.8" height="24.4" fill="#e8e8e8" stroke="#3a3a3a" stroke-width="0.8"/>
<rect x="485.4" y="102.36" width="9.8" height="15.94" fill="#ffc9c9" stroke="#3a3a3a" stroke-width="0.8"/>
<rect x="509.5" y="76.84" width="9.8" height="41.46" fill="#e8e8e8" stroke="#3a3a3a" stroke-width="0.8"/>
<rect x="524.4" y="86.3" width="9.8" height="32" fill="#ffc9c9" stroke="#3a3a3a" stroke-width="0.8"/>
<rect x="548.5" y="82.19" width="9.8" height="36.11" fill="#e8e8e8" stroke="#3a3a3a" stroke-width="0.8"/>
<rect x="563.4" y="92.4" width="9.8" height="25.9" fill="#ffc9c9" stroke="#3a3a3a" stroke-width="0.8"/>
<line x1="475.4" y1="75.35" x2="490.3" y2="86.18" stroke="#111" stroke-width="0.8"/>
<line x1="475.4" y1="101.87" x2="490.3" y2="109.09" stroke="#111" stroke-width="0.8"/>
<line x1="475.4" y1="104.36" x2="490.3" y2="110.33" stroke="#111" stroke-width="0.8"/>
<circle cx="475.4" cy="75.35" r="1.55" fill="#d0d0d0" stroke="#2a2a2a" stroke-width="0.9"/>
<circle cx="490.3" cy="86.18" r="1.6" fill="#fa2a0a" stroke="#3a0500" stroke-width="0.8"/>
<circle cx="475.4" cy="101.87" r="1.55" fill="#d0d0d0" stroke="#2a2a2a" stroke-width="0.9"/>
<circle cx="490.3" cy="109.09" r="1.6" fill="#fa2a0a" stroke="#3a0500" stroke-width="0.8"/>
<circle cx="475.4" cy="104.36" r="1.55" fill="#d0d0d0" stroke="#2a2a2a" stroke-width="0.9"/>
<circle cx="490.3" cy="110.33" r="1.6" fill="#fa2a0a" stroke="#3a0500" stroke-width="0.8"/>
<line x1="514.4" y1="49.08" x2="529.3" y2="63.52" stroke="#111" stroke-width="0.8"/>
<line x1="514.4" y1="85.43" x2="529.3" y2="90.29" stroke="#111" stroke-width="0.8"/>
<line x1="514.4" y1="95.89" x2="529.3" y2="104.23" stroke="#111" stroke-width="0.8"/>
<circle cx="514.4" cy="49.08" r="1.55" fill="#d0d0d0" stroke="#2a2a2a" stroke-width="0.9"/>
<circle cx="529.3" cy="63.52" r="1.6" fill="#fa2a0a" stroke="#3a0500" stroke-width="0.8"/>
<circle cx="514.4" cy="85.43" r="1.55" fill="#d0d0d0" stroke="#2a2a2a" stroke-width="0.9"/>
<circle cx="529.3" cy="90.29" r="1.6" fill="#fa2a0a" stroke="#3a0500" stroke-width="0.8"/>
<circle cx="514.4" cy="95.89" r="1.55" fill="#d0d0d0" stroke="#2a2a2a" stroke-width="0.9"/>
<circle cx="529.3" cy="104.23" r="1.6" fill="#fa2a0a" stroke="#3a0500" stroke-width="0.8"/>
<line x1="553.4" y1="63.52" x2="568.3" y2="88.05" stroke="#111" stroke-width="0.8"/>
<line x1="553.4" y1="80.95" x2="568.3" y2="82.19" stroke="#111" stroke-width="0.8"/>
<line x1="553.4" y1="101.62" x2="568.3" y2="106.85" stroke="#111" stroke-width="0.8"/>
<circle cx="553.4" cy="63.52" r="1.55" fill="#d0d0d0" stroke="#2a2a2a" stroke-width="0.9"/>
<circle cx="568.3" cy="88.05" r="1.6" fill="#fa2a0a" stroke="#3a0500" stroke-width="0.8"/>
<circle cx="553.4" cy="80.95" r="1.55" fill="#d0d0d0" stroke="#2a2a2a" stroke-width="0.9"/>
<circle cx="568.3" cy="82.19" r="1.6" fill="#fa2a0a" stroke="#3a0500" stroke-width="0.8"/>
<circle cx="553.4" cy="101.62" r="1.55" fill="#d0d0d0" stroke="#2a2a2a" stroke-width="0.9"/>
<circle cx="568.3" cy="106.85" r="1.6" fill="#fa2a0a" stroke="#3a0500" stroke-width="0.8"/>
<line x1="465.5" y1="43" x2="465.5" y2="119.05" stroke="#000" stroke-width="1.15"/>
<line x1="462.5" y1="118.3" x2="465.5" y2="118.3" stroke="#000" stroke-width="1.1"/>
<text transform="translate(461.8 121.7) scale(0.9434 1)" text-anchor="end" font-size="10.71">0</text>
<line x1="462.5" y1="93.4" x2="465.5" y2="93.4" stroke="#000" stroke-width="1.1"/>
<text transform="translate(461.8 96.8) scale(0.9434 1)" text-anchor="end" font-size="10.71">2</text>
<line x1="462.5" y1="68.5" x2="465.5" y2="68.5" stroke="#000" stroke-width="1.1"/>
<text transform="translate(461.8 71.9) scale(0.9434 1)" text-anchor="end" font-size="10.71">4</text>
<line x1="462.5" y1="43.6" x2="465.5" y2="43.6" stroke="#000" stroke-width="1.1"/>
<text transform="translate(461.8 47) scale(0.9434 1)" text-anchor="end" font-size="10.71">6</text>
<line x1="464.95" y1="118.5" x2="578.9" y2="118.5" stroke="#000" stroke-width="1.15"/>
<line x1="483" y1="118.5" x2="483" y2="121.5" stroke="#000" stroke-width="1.1"/>
<line x1="521.9" y1="118.5" x2="521.9" y2="121.5" stroke="#000" stroke-width="1.1"/>
<line x1="560.8" y1="118.5" x2="560.8" y2="121.5" stroke="#000" stroke-width="1.1"/>
<text transform="translate(483 130.6) scale(0.9434 1)" text-anchor="middle" font-size="10.71">PMA</text>
<text transform="translate(521.6 130.6) scale(0.9434 1)" text-anchor="middle" font-size="10.71">PMA</text>
<text transform="translate(521.6 142.8) scale(0.9434 1)" text-anchor="middle" font-size="10.71">+ IFNγ</text>
<text transform="translate(560.6 130.6) scale(0.9434 1)" text-anchor="middle" font-size="10.71">PMA</text>
<text transform="translate(560.6 142.8) scale(0.9434 1)" text-anchor="middle" font-size="10.71">+TNF</text>
<text transform="translate(469.2 45.1) scale(0.9434 1)" font-size="10.71">0.0464</text>
<line x1="472.3" y1="47.5" x2="487.5" y2="47.5" stroke="#000" stroke-width="1"/>
<text transform="translate(451.4,79.4) rotate(-90) scale(0.9434 1)" text-anchor="middle" font-size="10.18">AUC (×10<tspan font-size="6.3" dy="-3.4">5</tspan><tspan dy="3.4">)</tspan></text>
<text x="2.6" y="168.4" font-weight="bold" font-size="16.4" style="stroke-width:0.6px">e</text>
<circle cx="51" cy="175.05" r="2.2" fill="#000"/>
<text transform="translate(55.1 178.3) scale(0.9434 1)" font-size="10.6">Controls</text>
<circle cx="99.5" cy="175.05" r="1.75" fill="#d0d0d0" stroke="#2a2a2a" stroke-width="0.9"/>
<text transform="translate(103.6 178.3) scale(0.9434 1)" font-size="10.92">Isotype</text>
<circle cx="51" cy="188.15" r="1.8" fill="#fa2a0a" stroke="#3a0500" stroke-width="0.8"/>
<text transform="translate(55.1 191.4) scale(0.9434 1)" font-size="10.92">Infliximab</text>
<line x1="42.12" y1="260.51" x2="42.12" y2="272.24" stroke="#333" stroke-width="0.6"/>
<line x1="40.72" y1="260.51" x2="43.52" y2="260.51" stroke="#333" stroke-width="0.6"/>
<line x1="40.72" y1="272.24" x2="43.52" y2="272.24" stroke="#333" stroke-width="0.6"/>
<line x1="51.23" y1="256.78" x2="51.23" y2="267.04" stroke="#333" stroke-width="0.6"/>
<line x1="49.83" y1="256.78" x2="52.63" y2="256.78" stroke="#333" stroke-width="0.6"/>
<line x1="49.83" y1="267.04" x2="52.63" y2="267.04" stroke="#333" stroke-width="0.6"/>
<line x1="60.35" y1="250.91" x2="60.35" y2="261.17" stroke="#333" stroke-width="0.6"/>
<line x1="58.95" y1="250.91" x2="61.75" y2="250.91" stroke="#333" stroke-width="0.6"/>
<line x1="58.95" y1="261.17" x2="61.75" y2="261.17" stroke="#333" stroke-width="0.6"/>
<line x1="69.47" y1="246.15" x2="69.47" y2="256.41" stroke="#333" stroke-width="0.6"/>
<line x1="68.07" y1="246.15" x2="70.87" y2="246.15" stroke="#333" stroke-width="0.6"/>
<line x1="68.07" y1="256.41" x2="70.87" y2="256.41" stroke="#333" stroke-width="0.6"/>
<line x1="78.58" y1="241.02" x2="78.58" y2="252.74" stroke="#333" stroke-width="0.6"/>
<line x1="77.18" y1="241.02" x2="79.98" y2="241.02" stroke="#333" stroke-width="0.6"/>
<line x1="77.18" y1="252.74" x2="79.98" y2="252.74" stroke="#333" stroke-width="0.6"/>
<line x1="87.7" y1="236.99" x2="87.7" y2="248.71" stroke="#333" stroke-width="0.6"/>
<line x1="86.3" y1="236.99" x2="89.1" y2="236.99" stroke="#333" stroke-width="0.6"/>
<line x1="86.3" y1="248.71" x2="89.1" y2="248.71" stroke="#333" stroke-width="0.6"/>
<line x1="96.82" y1="231.85" x2="96.82" y2="245.05" stroke="#333" stroke-width="0.6"/>
<line x1="95.42" y1="231.85" x2="98.22" y2="231.85" stroke="#333" stroke-width="0.6"/>
<line x1="95.42" y1="245.05" x2="98.22" y2="245.05" stroke="#333" stroke-width="0.6"/>
<line x1="105.93" y1="227.46" x2="105.93" y2="240.65" stroke="#333" stroke-width="0.6"/>
<line x1="104.53" y1="227.46" x2="107.33" y2="227.46" stroke="#333" stroke-width="0.6"/>
<line x1="104.53" y1="240.65" x2="107.33" y2="240.65" stroke="#333" stroke-width="0.6"/>
<line x1="115.05" y1="223.79" x2="115.05" y2="236.99" stroke="#333" stroke-width="0.6"/>
<line x1="113.65" y1="223.79" x2="116.45" y2="223.79" stroke="#333" stroke-width="0.6"/>
<line x1="113.65" y1="236.99" x2="116.45" y2="236.99" stroke="#333" stroke-width="0.6"/>
<line x1="124.17" y1="219.76" x2="124.17" y2="234.42" stroke="#333" stroke-width="0.6"/>
<line x1="122.77" y1="219.76" x2="125.57" y2="219.76" stroke="#333" stroke-width="0.6"/>
<line x1="122.77" y1="234.42" x2="125.57" y2="234.42" stroke="#333" stroke-width="0.6"/>
<line x1="133.28" y1="215.73" x2="133.28" y2="230.39" stroke="#333" stroke-width="0.6"/>
<line x1="131.88" y1="215.73" x2="134.68" y2="215.73" stroke="#333" stroke-width="0.6"/>
<line x1="131.88" y1="230.39" x2="134.68" y2="230.39" stroke="#333" stroke-width="0.6"/>
<line x1="142.4" y1="212.8" x2="142.4" y2="227.46" stroke="#333" stroke-width="0.6"/>
<line x1="141" y1="212.8" x2="143.8" y2="212.8" stroke="#333" stroke-width="0.6"/>
<line x1="141" y1="227.46" x2="143.8" y2="227.46" stroke="#333" stroke-width="0.6"/>
<line x1="42.12" y1="267.04" x2="42.12" y2="277.3" stroke="#333" stroke-width="0.6"/>
<line x1="40.72" y1="267.04" x2="43.52" y2="267.04" stroke="#333" stroke-width="0.6"/>
<line x1="40.72" y1="277.3" x2="43.52" y2="277.3" stroke="#333" stroke-width="0.6"/>
<line x1="51.23" y1="261.91" x2="51.23" y2="272.17" stroke="#333" stroke-width="0.6"/>
<line x1="49.83" y1="261.91" x2="52.63" y2="261.91" stroke="#333" stroke-width="0.6"/>
<line x1="49.83" y1="272.17" x2="52.63" y2="272.17" stroke="#333" stroke-width="0.6"/>
<line x1="60.35" y1="256.04" x2="60.35" y2="266.31" stroke="#333" stroke-width="0.6"/>
<line x1="58.95" y1="256.04" x2="61.75" y2="256.04" stroke="#333" stroke-width="0.6"/>
<line x1="58.95" y1="266.31" x2="61.75" y2="266.31" stroke="#333" stroke-width="0.6"/>
<line x1="69.47" y1="250.18" x2="69.47" y2="260.44" stroke="#333" stroke-width="0.6"/>
<line x1="68.07" y1="250.18" x2="70.87" y2="250.18" stroke="#333" stroke-width="0.6"/>
<line x1="68.07" y1="260.44" x2="70.87" y2="260.44" stroke="#333" stroke-width="0.6"/>
<line x1="78.58" y1="244.31" x2="78.58" y2="256.04" stroke="#333" stroke-width="0.6"/>
<line x1="77.18" y1="244.31" x2="79.98" y2="244.31" stroke="#333" stroke-width="0.6"/>
<line x1="77.18" y1="256.04" x2="79.98" y2="256.04" stroke="#333" stroke-width="0.6"/>
<line x1="87.7" y1="239.92" x2="87.7" y2="251.65" stroke="#333" stroke-width="0.6"/>
<line x1="86.3" y1="239.92" x2="89.1" y2="239.92" stroke="#333" stroke-width="0.6"/>
<line x1="86.3" y1="251.65" x2="89.1" y2="251.65" stroke="#333" stroke-width="0.6"/>
<line x1="96.82" y1="234.79" x2="96.82" y2="247.98" stroke="#333" stroke-width="0.6"/>
<line x1="95.42" y1="234.79" x2="98.22" y2="234.79" stroke="#333" stroke-width="0.6"/>
<line x1="95.42" y1="247.98" x2="98.22" y2="247.98" stroke="#333" stroke-width="0.6"/>
<line x1="105.93" y1="231.12" x2="105.93" y2="244.31" stroke="#333" stroke-width="0.6"/>
<line x1="104.53" y1="231.12" x2="107.33" y2="231.12" stroke="#333" stroke-width="0.6"/>
<line x1="104.53" y1="244.31" x2="107.33" y2="244.31" stroke="#333" stroke-width="0.6"/>
<line x1="115.05" y1="226.72" x2="115.05" y2="239.92" stroke="#333" stroke-width="0.6"/>
<line x1="113.65" y1="226.72" x2="116.45" y2="226.72" stroke="#333" stroke-width="0.6"/>
<line x1="113.65" y1="239.92" x2="116.45" y2="239.92" stroke="#333" stroke-width="0.6"/>
<line x1="124.17" y1="222.69" x2="124.17" y2="237.35" stroke="#333" stroke-width="0.6"/>
<line x1="122.77" y1="222.69" x2="125.57" y2="222.69" stroke="#333" stroke-width="0.6"/>
<line x1="122.77" y1="237.35" x2="125.57" y2="237.35" stroke="#333" stroke-width="0.6"/>
<line x1="133.28" y1="219.76" x2="133.28" y2="234.42" stroke="#333" stroke-width="0.6"/>
<line x1="131.88" y1="219.76" x2="134.68" y2="219.76" stroke="#333" stroke-width="0.6"/>
<line x1="131.88" y1="234.42" x2="134.68" y2="234.42" stroke="#333" stroke-width="0.6"/>
<line x1="142.4" y1="217.19" x2="142.4" y2="231.85" stroke="#333" stroke-width="0.6"/>
<line x1="141" y1="217.19" x2="143.8" y2="217.19" stroke="#333" stroke-width="0.6"/>
<line x1="141" y1="231.85" x2="143.8" y2="231.85" stroke="#333" stroke-width="0.6"/>
<line x1="42.12" y1="265.21" x2="42.12" y2="272.54" stroke="#333" stroke-width="0.6"/>
<line x1="40.72" y1="265.21" x2="43.52" y2="265.21" stroke="#333" stroke-width="0.6"/>
<line x1="40.72" y1="272.54" x2="43.52" y2="272.54" stroke="#333" stroke-width="0.6"/>
<line x1="51.23" y1="263.37" x2="51.23" y2="269.24" stroke="#333" stroke-width="0.6"/>
<line x1="49.83" y1="263.37" x2="52.63" y2="263.37" stroke="#333" stroke-width="0.6"/>
<line x1="49.83" y1="269.24" x2="52.63" y2="269.24" stroke="#333" stroke-width="0.6"/>
<line x1="60.35" y1="259.71" x2="60.35" y2="265.57" stroke="#333" stroke-width="0.6"/>
<line x1="58.95" y1="259.71" x2="61.75" y2="259.71" stroke="#333" stroke-width="0.6"/>
<line x1="58.95" y1="265.57" x2="61.75" y2="265.57" stroke="#333" stroke-width="0.6"/>
<line x1="69.47" y1="256.04" x2="69.47" y2="261.91" stroke="#333" stroke-width="0.6"/>
<line x1="68.07" y1="256.04" x2="70.87" y2="256.04" stroke="#333" stroke-width="0.6"/>
<line x1="68.07" y1="261.91" x2="70.87" y2="261.91" stroke="#333" stroke-width="0.6"/>
<line x1="78.58" y1="252.38" x2="78.58" y2="259.71" stroke="#333" stroke-width="0.6"/>
<line x1="77.18" y1="252.38" x2="79.98" y2="252.38" stroke="#333" stroke-width="0.6"/>
<line x1="77.18" y1="259.71" x2="79.98" y2="259.71" stroke="#333" stroke-width="0.6"/>
<line x1="87.7" y1="248.71" x2="87.7" y2="256.04" stroke="#333" stroke-width="0.6"/>
<line x1="86.3" y1="248.71" x2="89.1" y2="248.71" stroke="#333" stroke-width="0.6"/>
<line x1="86.3" y1="256.04" x2="89.1" y2="256.04" stroke="#333" stroke-width="0.6"/>
<line x1="96.82" y1="245.78" x2="96.82" y2="253.11" stroke="#333" stroke-width="0.6"/>
<line x1="95.42" y1="245.78" x2="98.22" y2="245.78" stroke="#333" stroke-width="0.6"/>
<line x1="95.42" y1="253.11" x2="98.22" y2="253.11" stroke="#333" stroke-width="0.6"/>
<line x1="105.93" y1="242.12" x2="105.93" y2="249.45" stroke="#333" stroke-width="0.6"/>
<line x1="104.53" y1="242.12" x2="107.33" y2="242.12" stroke="#333" stroke-width="0.6"/>
<line x1="104.53" y1="249.45" x2="107.33" y2="249.45" stroke="#333" stroke-width="0.6"/>
<line x1="115.05" y1="239.18" x2="115.05" y2="246.51" stroke="#333" stroke-width="0.6"/>
<line x1="113.65" y1="239.18" x2="116.45" y2="239.18" stroke="#333" stroke-width="0.6"/>
<line x1="113.65" y1="246.51" x2="116.45" y2="246.51" stroke="#333" stroke-width="0.6"/>
<line x1="124.17" y1="235.52" x2="124.17" y2="244.31" stroke="#333" stroke-width="0.6"/>
<line x1="122.77" y1="235.52" x2="125.57" y2="235.52" stroke="#333" stroke-width="0.6"/>
<line x1="122.77" y1="244.31" x2="125.57" y2="244.31" stroke="#333" stroke-width="0.6"/>
<line x1="133.28" y1="232.59" x2="133.28" y2="241.38" stroke="#333" stroke-width="0.6"/>
<line x1="131.88" y1="232.59" x2="134.68" y2="232.59" stroke="#333" stroke-width="0.6"/>
<line x1="131.88" y1="241.38" x2="134.68" y2="241.38" stroke="#333" stroke-width="0.6"/>
<line x1="142.4" y1="230.39" x2="142.4" y2="239.18" stroke="#333" stroke-width="0.6"/>
<line x1="141" y1="230.39" x2="143.8" y2="230.39" stroke="#333" stroke-width="0.6"/>
<line x1="141" y1="239.18" x2="143.8" y2="239.18" stroke="#333" stroke-width="0.6"/>
<polyline points="33,277.3 42.12,268.87 51.23,266.31 60.35,262.64 69.47,258.98 78.58,256.04 87.7,252.38 96.82,249.45 105.93,245.78 115.05,242.85 124.17,239.92 133.28,236.99 142.4,234.79" fill="none" stroke="#000" stroke-width="0.8"/>
<circle cx="33" cy="277.3" r="1.5" fill="#fa2a0a" stroke="#3a0500" stroke-width="0.8"/>
<circle cx="42.12" cy="268.87" r="1.5" fill="#fa2a0a" stroke="#3a0500" stroke-width="0.8"/>
<circle cx="51.23" cy="266.31" r="1.5" fill="#fa2a0a" stroke="#3a0500" stroke-width="0.8"/>
<circle cx="60.35" cy="262.64" r="1.5" fill="#fa2a0a" stroke="#3a0500" stroke-width="0.8"/>
<circle cx="69.47" cy="258.98" r="1.5" fill="#fa2a0a" stroke="#3a0500" stroke-width="0.8"/>
<circle cx="78.58" cy="256.04" r="1.5" fill="#fa2a0a" stroke="#3a0500" stroke-width="0.8"/>
<circle cx="87.7" cy="252.38" r="1.5" fill="#fa2a0a" stroke="#3a0500" stroke-width="0.8"/>
<circle cx="96.82" cy="249.45" r="1.5" fill="#fa2a0a" stroke="#3a0500" stroke-width="0.8"/>
<circle cx="105.93" cy="245.78" r="1.5" fill="#fa2a0a" stroke="#3a0500" stroke-width="0.8"/>
<circle cx="115.05" cy="242.85" r="1.5" fill="#fa2a0a" stroke="#3a0500" stroke-width="0.8"/>
<circle cx="124.17" cy="239.92" r="1.5" fill="#fa2a0a" stroke="#3a0500" stroke-width="0.8"/>
<circle cx="133.28" cy="236.99" r="1.5" fill="#fa2a0a" stroke="#3a0500" stroke-width="0.8"/>
<circle cx="142.4" cy="234.79" r="1.5" fill="#fa2a0a" stroke="#3a0500" stroke-width="0.8"/>
<polyline points="33,277.3 42.12,272.9 51.23,267.04 60.35,261.17 69.47,255.31 78.58,250.18 87.7,245.78 96.82,241.38 105.93,237.72 115.05,233.32 124.17,230.02 133.28,227.09 142.4,224.52" fill="none" stroke="#000" stroke-width="0.8"/>
<circle cx="33" cy="277.3" r="1.45" fill="#8a8a8a" stroke="#2a2a2a" stroke-width="0.9"/>
<circle cx="42.12" cy="272.9" r="1.45" fill="#8a8a8a" stroke="#2a2a2a" stroke-width="0.9"/>
<circle cx="51.23" cy="267.04" r="1.45" fill="#8a8a8a" stroke="#2a2a2a" stroke-width="0.9"/>
<circle cx="60.35" cy="261.17" r="1.45" fill="#8a8a8a" stroke="#2a2a2a" stroke-width="0.9"/>
<circle cx="69.47" cy="255.31" r="1.45" fill="#8a8a8a" stroke="#2a2a2a" stroke-width="0.9"/>
<circle cx="78.58" cy="250.18" r="1.45" fill="#8a8a8a" stroke="#2a2a2a" stroke-width="0.9"/>
<circle cx="87.7" cy="245.78" r="1.45" fill="#8a8a8a" stroke="#2a2a2a" stroke-width="0.9"/>
<circle cx="96.82" cy="241.38" r="1.45" fill="#8a8a8a" stroke="#2a2a2a" stroke-width="0.9"/>
<circle cx="105.93" cy="237.72" r="1.45" fill="#8a8a8a" stroke="#2a2a2a" stroke-width="0.9"/>
<circle cx="115.05" cy="233.32" r="1.45" fill="#8a8a8a" stroke="#2a2a2a" stroke-width="0.9"/>
<circle cx="124.17" cy="230.02" r="1.45" fill="#8a8a8a" stroke="#2a2a2a" stroke-width="0.9"/>
<circle cx="133.28" cy="227.09" r="1.45" fill="#8a8a8a" stroke="#2a2a2a" stroke-width="0.9"/>
<circle cx="142.4" cy="224.52" r="1.45" fill="#8a8a8a" stroke="#2a2a2a" stroke-width="0.9"/>
<polyline points="33,277.3 42.12,266.38 51.23,261.91 60.35,256.04 69.47,251.28 78.58,246.88 87.7,242.85 96.82,238.45 105.93,234.05 115.05,230.39 124.17,227.09 133.28,223.06 142.4,220.13" fill="none" stroke="#000" stroke-width="0.8"/>
<circle cx="33" cy="277.3" r="1.9" fill="#000"/>
<circle cx="42.12" cy="266.38" r="1.9" fill="#000"/>
<circle cx="51.23" cy="261.91" r="1.9" fill="#000"/>
<circle cx="60.35" cy="256.04" r="1.9" fill="#000"/>
<circle cx="69.47" cy="251.28" r="1.9" fill="#000"/>
<circle cx="78.58" cy="246.88" r="1.9" fill="#000"/>
<circle cx="87.7" cy="242.85" r="1.9" fill="#000"/>
<circle cx="96.82" cy="238.45" r="1.9" fill="#000"/>
<circle cx="105.93" cy="234.05" r="1.9" fill="#000"/>
<circle cx="115.05" cy="230.39" r="1.9" fill="#000"/>
<circle cx="124.17" cy="227.09" r="1.9" fill="#000"/>
<circle cx="133.28" cy="223.06" r="1.9" fill="#000"/>
<circle cx="142.4" cy="220.13" r="1.9" fill="#000"/>
<line x1="33.5" y1="203.4" x2="33.5" y2="278.05" stroke="#000" stroke-width="1.15"/>
<line x1="30.5" y1="277.3" x2="33.5" y2="277.3" stroke="#000" stroke-width="1.1"/>
<text transform="translate(29.2 280.7) scale(0.9434 1)" text-anchor="end" font-size="10.71">0</text>
<line x1="30.5" y1="262.64" x2="33.5" y2="262.64" stroke="#000" stroke-width="1.1"/>
<text transform="translate(29.2 266.04) scale(0.9434 1)" text-anchor="end" font-size="10.71">0.2</text>
<line x1="30.5" y1="247.98" x2="33.5" y2="247.98" stroke="#000" stroke-width="1.1"/>
<text transform="translate(29.2 251.38) scale(0.9434 1)" text-anchor="end" font-size="10.71">0.4</text>
<line x1="30.5" y1="233.32" x2="33.5" y2="233.32" stroke="#000" stroke-width="1.1"/>
<text transform="translate(29.2 236.72) scale(0.9434 1)" text-anchor="end" font-size="10.71">0.6</text>
<line x1="30.5" y1="218.66" x2="33.5" y2="218.66" stroke="#000" stroke-width="1.1"/>
<text transform="translate(29.2 222.06) scale(0.9434 1)" text-anchor="end" font-size="10.71">0.8</text>
<line x1="30.5" y1="204" x2="33.5" y2="204" stroke="#000" stroke-width="1.1"/>
<text transform="translate(29.2 207.4) scale(0.9434 1)" text-anchor="end" font-size="10.71">1.0</text>
<line x1="32.95" y1="277.5" x2="143" y2="277.5" stroke="#000" stroke-width="1.15"/>
<line x1="33" y1="277.5" x2="33" y2="280.5" stroke="#000" stroke-width="1.1"/>
<text transform="translate(32.2 289.3) scale(0.9434 1)" text-anchor="middle" font-size="10.71">0</text>
<line x1="51.23" y1="277.5" x2="51.23" y2="280.5" stroke="#000" stroke-width="1.1"/>
<text transform="translate(50.43 289.3) scale(0.9434 1)" text-anchor="middle" font-size="10.71">20</text>
<line x1="69.47" y1="277.5" x2="69.47" y2="280.5" stroke="#000" stroke-width="1.1"/>
<text transform="translate(68.67 289.3) scale(0.9434 1)" text-anchor="middle" font-size="10.71">40</text>
<line x1="87.7" y1="277.5" x2="87.7" y2="280.5" stroke="#000" stroke-width="1.1"/>
<text transform="translate(86.9 289.3) scale(0.9434 1)" text-anchor="middle" font-size="10.71">60</text>
<line x1="105.93" y1="277.5" x2="105.93" y2="280.5" stroke="#000" stroke-width="1.1"/>
<text transform="translate(105.13 289.3) scale(0.9434 1)" text-anchor="middle" font-size="10.71">80</text>
<line x1="124.17" y1="277.5" x2="124.17" y2="280.5" stroke="#000" stroke-width="1.1"/>
<text transform="translate(123.37 289.3) scale(0.9434 1)" text-anchor="middle" font-size="10.71">100</text>
<line x1="142.4" y1="277.5" x2="142.4" y2="280.5" stroke="#000" stroke-width="1.1"/>
<text transform="translate(141.6 289.3) scale(0.9434 1)" text-anchor="middle" font-size="10.71">120</text>
<text transform="translate(90.8 302.2) scale(0.9434 1)" text-anchor="middle" font-size="10.28">Time (min)</text>
<text transform="translate(37.3 208.1) scale(0.9434 1)" font-size="10.6">PMA</text>
<text transform="translate(8.3,233) rotate(-90) scale(0.9434 1)" text-anchor="middle" font-size="10.6">H<tspan font-size="7" dy="2.6">2</tspan><tspan dy="-2.6">O</tspan><tspan font-size="7" dy="2.6">2</tspan><tspan dy="-2.6"> (µM)</tspan></text>
<text x="155" y="168.4" font-weight="bold" font-size="16.4" style="stroke-width:0.6px">f</text>
<circle cx="186.8" cy="175.05" r="1.75" fill="#d0d0d0" stroke="#2a2a2a" stroke-width="0.9"/>
<text transform="translate(190.9 178.3) scale(0.9434 1)" font-size="10.92">Isotype</text>
<circle cx="231.7" cy="175.05" r="1.8" fill="#fa2a0a" stroke="#3a0500" stroke-width="0.8"/>
<text transform="translate(235.8 178.3) scale(0.9434 1)" font-size="10.92">Infliximab</text>
<rect x="181.5" y="263.06" width="9.4" height="14.14" fill="#e8e8e8" stroke="#3a3a3a" stroke-width="0.8"/>
<rect x="196" y="266.01" width="9.4" height="11.19" fill="#ffc9c9" stroke="#3a3a3a" stroke-width="0.8"/>
<rect x="219.5" y="251.49" width="9.4" height="25.71" fill="#e8e8e8" stroke="#3a3a3a" stroke-width="0.8"/>
<rect x="234" y="255.8" width="9.4" height="21.4" fill="#ffc9c9" stroke="#3a3a3a" stroke-width="0.8"/>
<rect x="258.3" y="249.28" width="9.4" height="27.92" fill="#e8e8e8" stroke="#3a3a3a" stroke-width="0.8"/>
<rect x="272.8" y="259" width="9.4" height="18.2" fill="#ffc9c9" stroke="#3a3a3a" stroke-width="0.8"/>
<line x1="186.2" y1="234.15" x2="200.7" y2="247.8" stroke="#111" stroke-width="0.8"/>
<line x1="186.2" y1="260.59" x2="200.7" y2="261.09" stroke="#111" stroke-width="0.8"/>
<line x1="186.2" y1="262.93" x2="200.7" y2="262.93" stroke="#111" stroke-width="0.8"/>
<line x1="186.2" y1="270.07" x2="200.7" y2="272.65" stroke="#111" stroke-width="0.8"/>
<line x1="186.2" y1="271.79" x2="200.7" y2="274.49" stroke="#111" stroke-width="0.8"/>
<line x1="186.2" y1="276.95" x2="200.7" y2="276.95" stroke="#111" stroke-width="0.8"/>
<circle cx="186.2" cy="234.15" r="1.55" fill="#d0d0d0" stroke="#2a2a2a" stroke-width="0.9"/>
<circle cx="200.7" cy="247.8" r="1.6" fill="#fa2a0a" stroke="#3a0500" stroke-width="0.8"/>
<circle cx="186.2" cy="260.59" r="1.55" fill="#d0d0d0" stroke="#2a2a2a" stroke-width="0.9"/>
<circle cx="200.7" cy="261.09" r="1.6" fill="#fa2a0a" stroke="#3a0500" stroke-width="0.8"/>
<circle cx="186.2" cy="262.93" r="1.55" fill="#d0d0d0" stroke="#2a2a2a" stroke-width="0.9"/>
<circle cx="200.7" cy="262.93" r="1.6" fill="#fa2a0a" stroke="#3a0500" stroke-width="0.8"/>
<circle cx="186.2" cy="270.07" r="1.55" fill="#d0d0d0" stroke="#2a2a2a" stroke-width="0.9"/>
<circle cx="200.7" cy="272.65" r="1.6" fill="#fa2a0a" stroke="#3a0500" stroke-width="0.8"/>
<circle cx="186.2" cy="271.79" r="1.55" fill="#d0d0d0" stroke="#2a2a2a" stroke-width="0.9"/>
<circle cx="200.7" cy="274.49" r="1.6" fill="#fa2a0a" stroke="#3a0500" stroke-width="0.8"/>
<circle cx="186.2" cy="276.95" r="1.55" fill="#d0d0d0" stroke="#2a2a2a" stroke-width="0.9"/>
<circle cx="200.7" cy="276.95" r="1.6" fill="#fa2a0a" stroke="#3a0500" stroke-width="0.8"/>
<line x1="224.2" y1="210.78" x2="238.7" y2="215.7" stroke="#111" stroke-width="0.8"/>
<line x1="224.2" y1="245.96" x2="238.7" y2="249.65" stroke="#111" stroke-width="0.8"/>
<line x1="224.2" y1="247.8" x2="238.7" y2="256.66" stroke="#111" stroke-width="0.8"/>
<line x1="224.2" y1="251" x2="238.7" y2="258.5" stroke="#111" stroke-width="0.8"/>
<line x1="224.2" y1="253.71" x2="238.7" y2="262.56" stroke="#111" stroke-width="0.8"/>
<line x1="224.2" y1="259.73" x2="238.7" y2="258.5" stroke="#111" stroke-width="0.8"/>
<line x1="224.2" y1="269.7" x2="238.7" y2="272.16" stroke="#111" stroke-width="0.8"/>
<line x1="224.2" y1="272.65" x2="238.7" y2="274.49" stroke="#111" stroke-width="0.8"/>
<circle cx="224.2" cy="210.78" r="1.55" fill="#d0d0d0" stroke="#2a2a2a" stroke-width="0.9"/>
<circle cx="238.7" cy="215.7" r="1.6" fill="#fa2a0a" stroke="#3a0500" stroke-width="0.8"/>
<circle cx="224.2" cy="245.96" r="1.55" fill="#d0d0d0" stroke="#2a2a2a" stroke-width="0.9"/>
<circle cx="238.7" cy="249.65" r="1.6" fill="#fa2a0a" stroke="#3a0500" stroke-width="0.8"/>
<circle cx="224.2" cy="247.8" r="1.55" fill="#d0d0d0" stroke="#2a2a2a" stroke-width="0.9"/>
<circle cx="238.7" cy="256.66" r="1.6" fill="#fa2a0a" stroke="#3a0500" stroke-width="0.8"/>
<circle cx="224.2" cy="251" r="1.55" fill="#d0d0d0" stroke="#2a2a2a" stroke-width="0.9"/>
<circle cx="238.7" cy="258.5" r="1.6" fill="#fa2a0a" stroke="#3a0500" stroke-width="0.8"/>
<circle cx="224.2" cy="253.71" r="1.55" fill="#d0d0d0" stroke="#2a2a2a" stroke-width="0.9"/>
<circle cx="238.7" cy="262.56" r="1.6" fill="#fa2a0a" stroke="#3a0500" stroke-width="0.8"/>
<circle cx="224.2" cy="259.73" r="1.55" fill="#d0d0d0" stroke="#2a2a2a" stroke-width="0.9"/>
<circle cx="238.7" cy="258.5" r="1.6" fill="#fa2a0a" stroke="#3a0500" stroke-width="0.8"/>
<circle cx="224.2" cy="269.7" r="1.55" fill="#d0d0d0" stroke="#2a2a2a" stroke-width="0.9"/>
<circle cx="238.7" cy="272.16" r="1.6" fill="#fa2a0a" stroke="#3a0500" stroke-width="0.8"/>
<circle cx="224.2" cy="272.65" r="1.55" fill="#d0d0d0" stroke="#2a2a2a" stroke-width="0.9"/>
<circle cx="238.7" cy="274.49" r="1.6" fill="#fa2a0a" stroke="#3a0500" stroke-width="0.8"/>
<line x1="263" y1="212.75" x2="277.5" y2="233.66" stroke="#111" stroke-width="0.8"/>
<line x1="263" y1="248.91" x2="277.5" y2="257.03" stroke="#111" stroke-width="0.8"/>
<line x1="263" y1="250.14" x2="277.5" y2="259.49" stroke="#111" stroke-width="0.8"/>
<line x1="263" y1="256.17" x2="277.5" y2="262.69" stroke="#111" stroke-width="0.8"/>
<line x1="263" y1="271.66" x2="277.5" y2="277.2" stroke="#111" stroke-width="0.8"/>
<circle cx="263" cy="212.75" r="1.55" fill="#d0d0d0" stroke="#2a2a2a" stroke-width="0.9"/>
<circle cx="277.5" cy="233.66" r="1.6" fill="#fa2a0a" stroke="#3a0500" stroke-width="0.8"/>
<circle cx="263" cy="248.91" r="1.55" fill="#d0d0d0" stroke="#2a2a2a" stroke-width="0.9"/>
<circle cx="277.5" cy="257.03" r="1.6" fill="#fa2a0a" stroke="#3a0500" stroke-width="0.8"/>
<circle cx="263" cy="250.14" r="1.55" fill="#d0d0d0" stroke="#2a2a2a" stroke-width="0.9"/>
<circle cx="277.5" cy="259.49" r="1.6" fill="#fa2a0a" stroke="#3a0500" stroke-width="0.8"/>
<circle cx="263" cy="256.17" r="1.55" fill="#d0d0d0" stroke="#2a2a2a" stroke-width="0.9"/>
<circle cx="277.5" cy="262.69" r="1.6" fill="#fa2a0a" stroke="#3a0500" stroke-width="0.8"/>
<circle cx="263" cy="271.66" r="1.55" fill="#d0d0d0" stroke="#2a2a2a" stroke-width="0.9"/>
<circle cx="277.5" cy="277.2" r="1.6" fill="#fa2a0a" stroke="#3a0500" stroke-width="0.8"/>
<line x1="176.5" y1="202.8" x2="176.5" y2="278.05" stroke="#000" stroke-width="1.15"/>
<line x1="173.5" y1="277.2" x2="176.5" y2="277.2" stroke="#000" stroke-width="1.1"/>
<text transform="translate(171.8 280.6) scale(0.9434 1)" text-anchor="end" font-size="10.71">0</text>
<line x1="173.5" y1="252.6" x2="176.5" y2="252.6" stroke="#000" stroke-width="1.1"/>
<text transform="translate(171.8 256) scale(0.9434 1)" text-anchor="end" font-size="10.71">2</text>
<line x1="173.5" y1="228" x2="176.5" y2="228" stroke="#000" stroke-width="1.1"/>
<text transform="translate(171.8 231.4) scale(0.9434 1)" text-anchor="end" font-size="10.71">4</text>
<line x1="173.5" y1="203.4" x2="176.5" y2="203.4" stroke="#000" stroke-width="1.1"/>
<text transform="translate(171.8 206.8) scale(0.9434 1)" text-anchor="end" font-size="10.71">6</text>
<line x1="175.95" y1="277.5" x2="287.8" y2="277.5" stroke="#000" stroke-width="1.15"/>
<line x1="193.7" y1="277.5" x2="193.7" y2="280.5" stroke="#000" stroke-width="1.1"/>
<line x1="231.7" y1="277.5" x2="231.7" y2="280.5" stroke="#000" stroke-width="1.1"/>
<line x1="270.5" y1="277.5" x2="270.5" y2="280.5" stroke="#000" stroke-width="1.1"/>
<text transform="translate(194.4 290.6) scale(0.9434 1)" text-anchor="middle" font-size="10.71">PMA</text>
<text transform="translate(233 290.6) scale(0.9434 1)" text-anchor="middle" font-size="10.71">PMA</text>
<text transform="translate(233.5 302.5) scale(0.9434 1)" text-anchor="middle" font-size="10.71">+ IFNγ</text>
<text transform="translate(272 290.6) scale(0.9434 1)" text-anchor="middle" font-size="10.71">PMA</text>
<text transform="translate(272 302.5) scale(0.9434 1)" text-anchor="middle" font-size="10.71">+ TNF</text>
<text transform="translate(216 205.1) scale(0.9434 1)" font-size="10.71">0.0327</text>
<line x1="223.7" y1="207.9" x2="238.3" y2="207.9" stroke="#000" stroke-width="1"/>
<text transform="translate(255.8 205.1) scale(0.9434 1)" font-size="10.71">0.0280</text>
<line x1="263.3" y1="207.9" x2="277.9" y2="207.9" stroke="#000" stroke-width="1"/>
<text transform="translate(159.6,235.6) rotate(-90) scale(0.9434 1)" text-anchor="middle" font-size="10.6">H<tspan font-size="7" dy="2.6">2</tspan><tspan dy="-2.6">O</tspan><tspan font-size="7" dy="2.6">2</tspan><tspan dy="-2.6"> (µM)</tspan></text>
<text x="295.3" y="168.4" font-weight="bold" font-size="16.4" style="stroke-width:0.6px">g</text>
<circle cx="337.8" cy="175.05" r="2.2" fill="#000"/>
<text transform="translate(341.9 178.3) scale(0.9434 1)" font-size="10.6">Controls</text>
<circle cx="386.6" cy="175.05" r="1.75" fill="#d0d0d0" stroke="#2a2a2a" stroke-width="0.9"/>
<text transform="translate(390.7 178.3) scale(0.9434 1)" font-size="10.92">Isotype</text>
<circle cx="337.8" cy="188.15" r="1.8" fill="#fa2a0a" stroke="#3a0500" stroke-width="0.8"/>
<text transform="translate(341.9 191.4) scale(0.9434 1)" font-size="10.92">Infliximab</text>
<polyline points="320.7,277.3 329.97,273.62 339.25,271.23 348.52,270.49 357.8,268.1 367.07,263.32 376.35,261.11 385.62,259.64 394.9,256.32 404.18,253.2 413.45,251.17 422.73,248.78 432,245.1" fill="none" stroke="#222" stroke-width="0.95"/>
<circle cx="320.7" cy="277.3" r="1.6" fill="#fa2a0a" stroke="#3a0500" stroke-width="0.8"/>
<circle cx="329.97" cy="273.62" r="1.6" fill="#fa2a0a" stroke="#3a0500" stroke-width="0.8"/>
<circle cx="339.25" cy="271.23" r="1.6" fill="#fa2a0a" stroke="#3a0500" stroke-width="0.8"/>
<circle cx="348.52" cy="270.49" r="1.6" fill="#fa2a0a" stroke="#3a0500" stroke-width="0.8"/>
<circle cx="357.8" cy="268.1" r="1.6" fill="#fa2a0a" stroke="#3a0500" stroke-width="0.8"/>
<circle cx="367.07" cy="263.32" r="1.6" fill="#fa2a0a" stroke="#3a0500" stroke-width="0.8"/>
<circle cx="376.35" cy="261.11" r="1.6" fill="#fa2a0a" stroke="#3a0500" stroke-width="0.8"/>
<circle cx="385.62" cy="259.64" r="1.6" fill="#fa2a0a" stroke="#3a0500" stroke-width="0.8"/>
<circle cx="394.9" cy="256.32" r="1.6" fill="#fa2a0a" stroke="#3a0500" stroke-width="0.8"/>
<circle cx="404.18" cy="253.2" r="1.6" fill="#fa2a0a" stroke="#3a0500" stroke-width="0.8"/>
<circle cx="413.45" cy="251.17" r="1.6" fill="#fa2a0a" stroke="#3a0500" stroke-width="0.8"/>
<circle cx="422.73" cy="248.78" r="1.6" fill="#fa2a0a" stroke="#3a0500" stroke-width="0.8"/>
<circle cx="432" cy="245.1" r="1.6" fill="#fa2a0a" stroke="#3a0500" stroke-width="0.8"/>
<polyline points="320.7,275.46 329.97,271.78 339.25,270.12 348.52,264.42 357.8,252.46 367.07,234.98 376.35,230.38 385.62,224.12 394.9,223.02 404.18,225.04 413.45,223.02 422.73,222.47 432,224.49" fill="none" stroke="#222" stroke-width="0.95"/>
<circle cx="320.7" cy="275.46" r="1.85" fill="#000"/>
<circle cx="329.97" cy="271.78" r="1.85" fill="#000"/>
<circle cx="339.25" cy="270.12" r="1.85" fill="#000"/>
<circle cx="348.52" cy="264.42" r="1.85" fill="#000"/>
<circle cx="357.8" cy="252.46" r="1.85" fill="#000"/>
<circle cx="367.07" cy="234.98" r="1.85" fill="#000"/>
<circle cx="376.35" cy="230.38" r="1.85" fill="#000"/>
<circle cx="385.62" cy="224.12" r="1.85" fill="#000"/>
<circle cx="394.9" cy="223.02" r="1.85" fill="#000"/>
<circle cx="404.18" cy="225.04" r="1.85" fill="#000"/>
<circle cx="413.45" cy="223.02" r="1.85" fill="#000"/>
<circle cx="422.73" cy="222.47" r="1.85" fill="#000"/>
<circle cx="432" cy="224.49" r="1.85" fill="#000"/>
<polyline points="320.7,274.54 329.97,271.41 339.25,269.57 348.52,263.5 357.8,256.88 367.07,234.24 376.35,227.62 385.62,221.18 394.9,223.02 404.18,223.76 413.45,225.04 422.73,226.33 432,224.49" fill="none" stroke="#222" stroke-width="0.95"/>
<circle cx="320.7" cy="274.54" r="1.4" fill="#d0d0d0" stroke="#2a2a2a" stroke-width="0.9"/>
<circle cx="329.97" cy="271.41" r="1.4" fill="#d0d0d0" stroke="#2a2a2a" stroke-width="0.9"/>
<circle cx="339.25" cy="269.57" r="1.4" fill="#d0d0d0" stroke="#2a2a2a" stroke-width="0.9"/>
<circle cx="348.52" cy="263.5" r="1.4" fill="#d0d0d0" stroke="#2a2a2a" stroke-width="0.9"/>
<circle cx="357.8" cy="256.88" r="1.4" fill="#d0d0d0" stroke="#2a2a2a" stroke-width="0.9"/>
<circle cx="367.07" cy="234.24" r="1.4" fill="#d0d0d0" stroke="#2a2a2a" stroke-width="0.9"/>
<circle cx="376.35" cy="227.62" r="1.4" fill="#d0d0d0" stroke="#2a2a2a" stroke-width="0.9"/>
<circle cx="385.62" cy="221.18" r="1.4" fill="#d0d0d0" stroke="#2a2a2a" stroke-width="0.9"/>
<circle cx="394.9" cy="223.02" r="1.4" fill="#d0d0d0" stroke="#2a2a2a" stroke-width="0.9"/>
<circle cx="404.18" cy="223.76" r="1.4" fill="#d0d0d0" stroke="#2a2a2a" stroke-width="0.9"/>
<circle cx="413.45" cy="225.04" r="1.4" fill="#d0d0d0" stroke="#2a2a2a" stroke-width="0.9"/>
<circle cx="422.73" cy="226.33" r="1.4" fill="#d0d0d0" stroke="#2a2a2a" stroke-width="0.9"/>
<circle cx="432" cy="224.49" r="1.4" fill="#d0d0d0" stroke="#2a2a2a" stroke-width="0.9"/>
<line x1="320.5" y1="203.1" x2="320.5" y2="278.05" stroke="#000" stroke-width="1.15"/>
<line x1="317.5" y1="277.3" x2="320.5" y2="277.3" stroke="#000" stroke-width="1.1"/>
<text transform="translate(316.9 280.7) scale(0.9434 1)" text-anchor="end" font-size="10.71">0</text>
<line x1="317.5" y1="258.9" x2="320.5" y2="258.9" stroke="#000" stroke-width="1.1"/>
<text transform="translate(316.9 262.3) scale(0.9434 1)" text-anchor="end" font-size="10.71">1</text>
<line x1="317.5" y1="240.5" x2="320.5" y2="240.5" stroke="#000" stroke-width="1.1"/>
<text transform="translate(316.9 243.9) scale(0.9434 1)" text-anchor="end" font-size="10.71">2</text>
<line x1="317.5" y1="222.1" x2="320.5" y2="222.1" stroke="#000" stroke-width="1.1"/>
<text transform="translate(316.9 225.5) scale(0.9434 1)" text-anchor="end" font-size="10.71">3</text>
<line x1="317.5" y1="203.7" x2="320.5" y2="203.7" stroke="#000" stroke-width="1.1"/>
<text transform="translate(316.9 207.1) scale(0.9434 1)" text-anchor="end" font-size="10.71">4</text>
<line x1="319.95" y1="277.5" x2="432.6" y2="277.5" stroke="#000" stroke-width="1.15"/>
<line x1="320.7" y1="277.5" x2="320.7" y2="280.5" stroke="#000" stroke-width="1.1"/>
<text transform="translate(319.9 289.3) scale(0.9434 1)" text-anchor="middle" font-size="10.71">0</text>
<line x1="339.25" y1="277.5" x2="339.25" y2="280.5" stroke="#000" stroke-width="1.1"/>
<text transform="translate(338.45 289.3) scale(0.9434 1)" text-anchor="middle" font-size="10.71">10</text>
<line x1="357.8" y1="277.5" x2="357.8" y2="280.5" stroke="#000" stroke-width="1.1"/>
<text transform="translate(357 289.3) scale(0.9434 1)" text-anchor="middle" font-size="10.71">20</text>
<line x1="376.35" y1="277.5" x2="376.35" y2="280.5" stroke="#000" stroke-width="1.1"/>
<text transform="translate(375.55 289.3) scale(0.9434 1)" text-anchor="middle" font-size="10.71">30</text>
<line x1="394.9" y1="277.5" x2="394.9" y2="280.5" stroke="#000" stroke-width="1.1"/>
<text transform="translate(394.1 289.3) scale(0.9434 1)" text-anchor="middle" font-size="10.71">40</text>
<line x1="413.45" y1="277.5" x2="413.45" y2="280.5" stroke="#000" stroke-width="1.1"/>
<text transform="translate(412.65 289.3) scale(0.9434 1)" text-anchor="middle" font-size="10.71">50</text>
<line x1="432" y1="277.5" x2="432" y2="280.5" stroke="#000" stroke-width="1.1"/>
<text transform="translate(431.2 289.3) scale(0.9434 1)" text-anchor="middle" font-size="10.71">60</text>
<text transform="translate(380.5 302.2) scale(0.9434 1)" text-anchor="middle" font-size="10.28">Time (min)</text>
<text transform="translate(325.6 208.3) scale(0.9434 1)" font-size="10.71">PMA</text>
<text transform="translate(304.4,240.8) rotate(-90) scale(0.9434 1)" text-anchor="middle" font-size="10.07">RLU (×10<tspan font-size="6.3" dy="-3.4">3</tspan><tspan dy="3.4">)</tspan></text>
<text x="441.6" y="168.4" font-weight="bold" font-size="16.4" style="stroke-width:0.6px">h</text>
<circle cx="455" cy="175.05" r="1.75" fill="#d0d0d0" stroke="#2a2a2a" stroke-width="0.9"/>
<text transform="translate(459.1 178.3) scale(0.9434 1)" font-size="10.92">Isotype</text>
<circle cx="500" cy="175.05" r="1.8" fill="#fa2a0a" stroke="#3a0500" stroke-width="0.8"/>
<text transform="translate(504.1 178.3) scale(0.9434 1)" font-size="10.92">Infliximab</text>
<rect x="471" y="243.45" width="9.8" height="33.85" fill="#e8e8e8" stroke="#3a3a3a" stroke-width="0.8"/>
<rect x="485.6" y="249.96" width="9.8" height="27.34" fill="#ffc9c9" stroke="#3a3a3a" stroke-width="0.8"/>
<rect x="510.3" y="225.96" width="9.8" height="51.34" fill="#e8e8e8" stroke="#3a3a3a" stroke-width="0.8"/>
<rect x="525.2" y="234.52" width="9.8" height="42.78" fill="#ffc9c9" stroke="#3a3a3a" stroke-width="0.8"/>
<line x1="475.9" y1="218.71" x2="490.5" y2="221.5" stroke="#111" stroke-width="0.8"/>
<line x1="475.9" y1="252.19" x2="490.5" y2="263.16" stroke="#111" stroke-width="0.8"/>
<line x1="475.9" y1="260.37" x2="490.5" y2="265.3" stroke="#111" stroke-width="0.8"/>
<circle cx="475.9" cy="218.71" r="1.55" fill="#d0d0d0" stroke="#2a2a2a" stroke-width="0.9"/>
<circle cx="490.5" cy="221.5" r="1.6" fill="#fa2a0a" stroke="#3a0500" stroke-width="0.8"/>
<circle cx="475.9" cy="252.19" r="1.55" fill="#d0d0d0" stroke="#2a2a2a" stroke-width="0.9"/>
<circle cx="490.5" cy="263.16" r="1.6" fill="#fa2a0a" stroke="#3a0500" stroke-width="0.8"/>
<circle cx="475.9" cy="260.37" r="1.55" fill="#d0d0d0" stroke="#2a2a2a" stroke-width="0.9"/>
<circle cx="490.5" cy="265.3" r="1.6" fill="#fa2a0a" stroke="#3a0500" stroke-width="0.8"/>
<line x1="515.2" y1="216.85" x2="530.1" y2="225.59" stroke="#111" stroke-width="0.8"/>
<line x1="515.2" y1="227.45" x2="530.1" y2="235.64" stroke="#111" stroke-width="0.8"/>
<line x1="515.2" y1="231.08" x2="530.1" y2="241.4" stroke="#111" stroke-width="0.8"/>
<circle cx="515.2" cy="216.85" r="1.55" fill="#d0d0d0" stroke="#2a2a2a" stroke-width="0.9"/>
<circle cx="530.1" cy="225.59" r="1.6" fill="#fa2a0a" stroke="#3a0500" stroke-width="0.8"/>
<circle cx="515.2" cy="227.45" r="1.55" fill="#d0d0d0" stroke="#2a2a2a" stroke-width="0.9"/>
<circle cx="530.1" cy="235.64" r="1.6" fill="#fa2a0a" stroke="#3a0500" stroke-width="0.8"/>
<circle cx="515.2" cy="231.08" r="1.55" fill="#d0d0d0" stroke="#2a2a2a" stroke-width="0.9"/>
<circle cx="530.1" cy="241.4" r="1.6" fill="#fa2a0a" stroke="#3a0500" stroke-width="0.8"/>
<line x1="465.5" y1="202.3" x2="465.5" y2="278.05" stroke="#000" stroke-width="1.15"/>
<line x1="462.5" y1="277.3" x2="465.5" y2="277.3" stroke="#000" stroke-width="1.1"/>
<text transform="translate(461.6 280.7) scale(0.9434 1)" text-anchor="end" font-size="10.71">0</text>
<line x1="462.5" y1="258.7" x2="465.5" y2="258.7" stroke="#000" stroke-width="1.1"/>
<text transform="translate(461.6 262.1) scale(0.9434 1)" text-anchor="end" font-size="10.71">2</text>
<line x1="462.5" y1="240.1" x2="465.5" y2="240.1" stroke="#000" stroke-width="1.1"/>
<text transform="translate(461.6 243.5) scale(0.9434 1)" text-anchor="end" font-size="10.71">4</text>
<line x1="462.5" y1="221.5" x2="465.5" y2="221.5" stroke="#000" stroke-width="1.1"/>
<text transform="translate(461.6 224.9) scale(0.9434 1)" text-anchor="end" font-size="10.71">6</text>
<line x1="462.5" y1="202.9" x2="465.5" y2="202.9" stroke="#000" stroke-width="1.1"/>
<text transform="translate(461.6 206.3) scale(0.9434 1)" text-anchor="end" font-size="10.71">8</text>
<line x1="464.95" y1="277.5" x2="540.8" y2="277.5" stroke="#000" stroke-width="1.15"/>
<line x1="483.3" y1="277.5" x2="483.3" y2="280.5" stroke="#000" stroke-width="1.1"/>
<line x1="522.7" y1="277.5" x2="522.7" y2="280.5" stroke="#000" stroke-width="1.1"/>
<text transform="translate(484.2 290.6) scale(0.9434 1)" text-anchor="middle" font-size="10.71">PMA</text>
<text transform="translate(523.3 290.6) scale(0.9434 1)" text-anchor="middle" font-size="10.71">PMA</text>
<text transform="translate(523.3 302.5) scale(0.9434 1)" text-anchor="middle" font-size="10.71">+ IFNγ</text>
<text transform="translate(451.2,234.9) rotate(-90) scale(0.9434 1)" text-anchor="middle" font-size="10.18">AUC (×10<tspan font-size="6.3" dy="-3.4">5</tspan><tspan dy="3.4">)</tspan></text>
<text x="551.4" y="168.4" font-weight="bold" font-size="16.4" style="stroke-width:0.6px">i</text>
<circle cx="581.9" cy="175.05" r="1.75" fill="#d0d0d0" stroke="#2a2a2a" stroke-width="0.9"/>
<text transform="translate(586 178.3) scale(0.9434 1)" font-size="10.92">Isotype</text>
<circle cx="627" cy="175.05" r="1.8" fill="#fa2a0a" stroke="#3a0500" stroke-width="0.8"/>
<text transform="translate(631.1 178.3) scale(0.9434 1)" font-size="10.92">Infliximab</text>
<rect x="574.9" y="263.28" width="7.5" height="14.02" fill="#e8e8e8" stroke="#3a3a3a" stroke-width="0.8"/>
<rect x="586.3" y="271.5" width="7.5" height="5.8" fill="#ffc9c9" stroke="#3a3a3a" stroke-width="0.8"/>
<rect x="604.3" y="251.87" width="7.5" height="25.43" fill="#e8e8e8" stroke="#3a3a3a" stroke-width="0.8"/>
<rect x="615.1" y="260.19" width="7.5" height="17.11" fill="#ffc9c9" stroke="#3a3a3a" stroke-width="0.8"/>
<rect x="633.3" y="241.77" width="7.5" height="35.53" fill="#e8e8e8" stroke="#3a3a3a" stroke-width="0.8"/>
<rect x="644.2" y="256.08" width="7.5" height="21.22" fill="#ffc9c9" stroke="#3a3a3a" stroke-width="0.8"/>
<rect x="661.9" y="251.21" width="7.5" height="26.09" fill="#e8e8e8" stroke="#3a3a3a" stroke-width="0.8"/>
<rect x="672.8" y="254.49" width="7.5" height="22.81" fill="#ffc9c9" stroke="#3a3a3a" stroke-width="0.8"/>
<line x1="578.65" y1="262.9" x2="590.05" y2="271.04" stroke="#111" stroke-width="0.8"/>
<line x1="578.65" y1="263.28" x2="590.05" y2="272.16" stroke="#111" stroke-width="0.8"/>
<circle cx="578.65" cy="262.9" r="1.55" fill="#d0d0d0" stroke="#2a2a2a" stroke-width="0.9"/>
<circle cx="590.05" cy="271.04" r="1.6" fill="#fa2a0a" stroke="#3a0500" stroke-width="0.8"/>
<circle cx="578.65" cy="263.28" r="1.55" fill="#d0d0d0" stroke="#2a2a2a" stroke-width="0.9"/>
<circle cx="590.05" cy="272.16" r="1.6" fill="#fa2a0a" stroke="#3a0500" stroke-width="0.8"/>
<line x1="608.05" y1="243.64" x2="618.85" y2="253.93" stroke="#111" stroke-width="0.8"/>
<line x1="608.05" y1="259.91" x2="618.85" y2="265.52" stroke="#111" stroke-width="0.8"/>
<circle cx="608.05" cy="243.64" r="1.55" fill="#d0d0d0" stroke="#2a2a2a" stroke-width="0.9"/>
<circle cx="618.85" cy="253.93" r="1.6" fill="#fa2a0a" stroke="#3a0500" stroke-width="0.8"/>
<circle cx="608.05" cy="259.91" r="1.55" fill="#d0d0d0" stroke="#2a2a2a" stroke-width="0.9"/>
<circle cx="618.85" cy="265.52" r="1.6" fill="#fa2a0a" stroke="#3a0500" stroke-width="0.8"/>
<line x1="637.05" y1="213.72" x2="647.95" y2="240.46" stroke="#111" stroke-width="0.8"/>
<line x1="637.05" y1="252.62" x2="647.95" y2="260.66" stroke="#111" stroke-width="0.8"/>
<line x1="637.05" y1="255.8" x2="647.95" y2="266.17" stroke="#111" stroke-width="0.8"/>
<circle cx="637.05" cy="213.72" r="1.55" fill="#d0d0d0" stroke="#2a2a2a" stroke-width="0.9"/>
<circle cx="647.95" cy="240.46" r="1.6" fill="#fa2a0a" stroke="#3a0500" stroke-width="0.8"/>
<circle cx="637.05" cy="252.62" r="1.55" fill="#d0d0d0" stroke="#2a2a2a" stroke-width="0.9"/>
<circle cx="647.95" cy="260.66" r="1.6" fill="#fa2a0a" stroke="#3a0500" stroke-width="0.8"/>
<circle cx="637.05" cy="255.8" r="1.55" fill="#d0d0d0" stroke="#2a2a2a" stroke-width="0.9"/>
<circle cx="647.95" cy="266.17" r="1.6" fill="#fa2a0a" stroke="#3a0500" stroke-width="0.8"/>
<line x1="665.65" y1="248.6" x2="676.55" y2="251.87" stroke="#111" stroke-width="0.8"/>
<line x1="665.65" y1="250.75" x2="676.55" y2="255.33" stroke="#111" stroke-width="0.8"/>
<circle cx="665.65" cy="248.6" r="1.55" fill="#d0d0d0" stroke="#2a2a2a" stroke-width="0.9"/>
<circle cx="676.55" cy="251.87" r="1.6" fill="#fa2a0a" stroke="#3a0500" stroke-width="0.8"/>
<circle cx="665.65" cy="250.75" r="1.55" fill="#d0d0d0" stroke="#2a2a2a" stroke-width="0.9"/>
<circle cx="676.55" cy="255.33" r="1.6" fill="#fa2a0a" stroke="#3a0500" stroke-width="0.8"/>
<line x1="571.5" y1="201.9" x2="571.5" y2="278.05" stroke="#000" stroke-width="1.15"/>
<line x1="568.5" y1="277.3" x2="571.5" y2="277.3" stroke="#000" stroke-width="1.1"/>
<text transform="translate(567.8 280.7) scale(0.9434 1)" text-anchor="end" font-size="10.71">0</text>
<line x1="568.5" y1="258.6" x2="571.5" y2="258.6" stroke="#000" stroke-width="1.1"/>
<text transform="translate(567.8 262) scale(0.9434 1)" text-anchor="end" font-size="10.71">2</text>
<line x1="568.5" y1="239.9" x2="571.5" y2="239.9" stroke="#000" stroke-width="1.1"/>
<text transform="translate(567.8 243.3) scale(0.9434 1)" text-anchor="end" font-size="10.71">4</text>
<line x1="568.5" y1="221.2" x2="571.5" y2="221.2" stroke="#000" stroke-width="1.1"/>
<text transform="translate(567.8 224.6) scale(0.9434 1)" text-anchor="end" font-size="10.71">6</text>
<line x1="568.5" y1="202.5" x2="571.5" y2="202.5" stroke="#000" stroke-width="1.1"/>
<text transform="translate(567.8 205.9) scale(0.9434 1)" text-anchor="end" font-size="10.71">8</text>
<line x1="570.95" y1="277.5" x2="683.2" y2="277.5" stroke="#000" stroke-width="1.15"/>
<line x1="584" y1="277.5" x2="584" y2="280.5" stroke="#000" stroke-width="1.1"/>
<line x1="613" y1="277.5" x2="613" y2="280.5" stroke="#000" stroke-width="1.1"/>
<line x1="642.2" y1="277.5" x2="642.2" y2="280.5" stroke="#000" stroke-width="1.1"/>
<line x1="669" y1="277.5" x2="669" y2="280.5" stroke="#000" stroke-width="1.1"/>
<text transform="translate(583 289.5) scale(0.9434 1)" text-anchor="middle" font-size="10.71">4</text>
<text transform="translate(613.1 289.5) scale(0.9434 1)" text-anchor="middle" font-size="10.71">40</text>
<text transform="translate(642.2 289.5) scale(0.9434 1)" text-anchor="middle" font-size="10.71">400</text>
<text transform="translate(670 289.2) scale(0.9434 1)" text-anchor="middle" font-size="10.71">PMA</text>
<text transform="translate(671 301.2) scale(0.9434 1)" text-anchor="middle" font-size="10.71">+ IFNγ</text>
<line x1="574.3" y1="294.3" x2="651.8" y2="294.3" stroke="#000" stroke-width="1"/>
<text transform="translate(612.8 307.2) scale(0.9434 1)" text-anchor="middle" font-size="10.28">PMA (ng ml<tspan font-size="6.8" dy="-3.5">−1</tspan><tspan dy="3.5">)</tspan></text>
<text transform="translate(554,237.4) rotate(-90) scale(0.9434 1)" text-anchor="middle" font-size="10.6">H<tspan font-size="7" dy="2.6">2</tspan><tspan dy="-2.6">O</tspan><tspan font-size="7" dy="2.6">2</tspan><tspan dy="-2.6"> (µM)</tspan></text>
</svg>
</body></html>
